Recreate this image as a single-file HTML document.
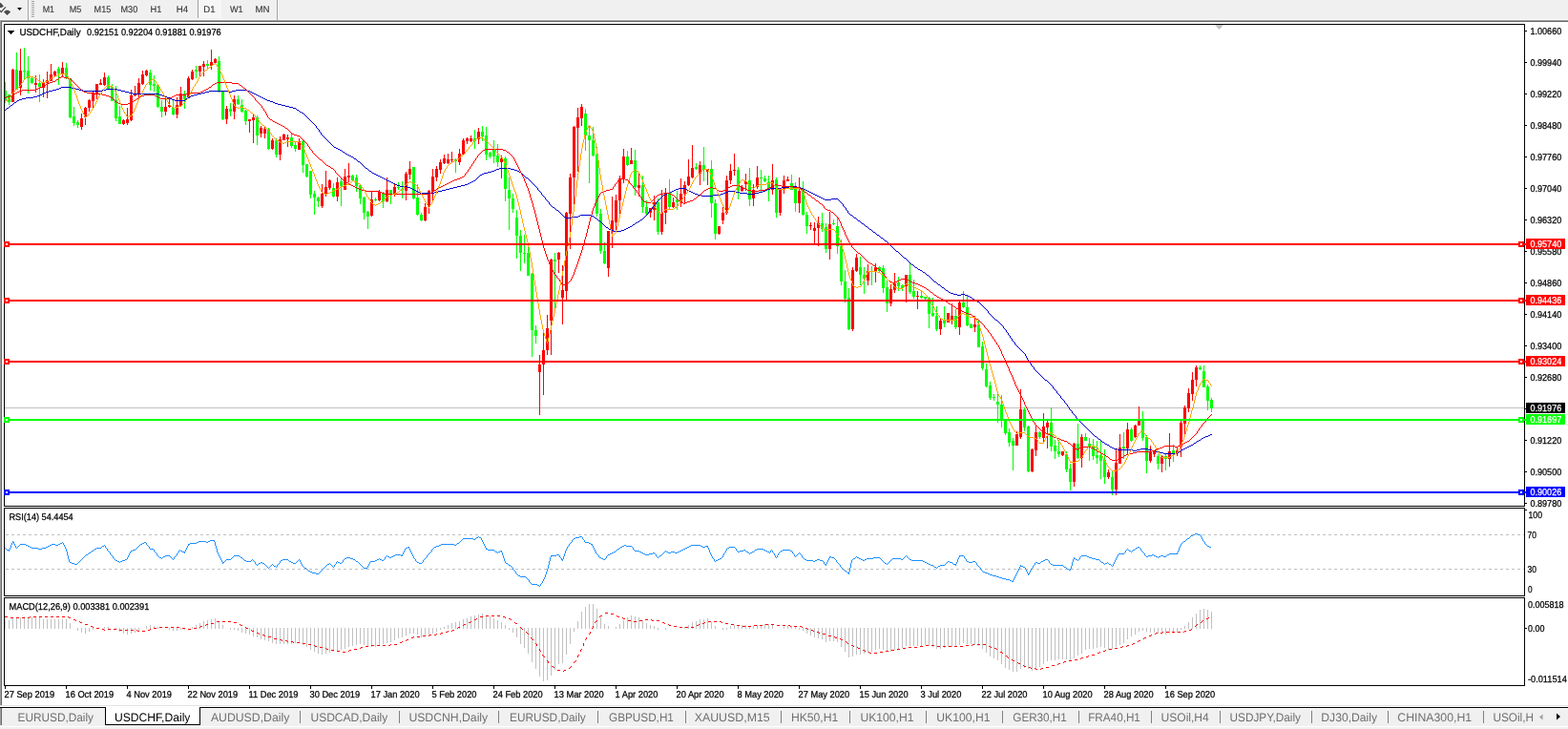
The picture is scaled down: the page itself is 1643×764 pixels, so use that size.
<!DOCTYPE html>
<html><head><meta charset="utf-8"><title>USDCHF,Daily</title>
<style>html,body{margin:0;padding:0;background:#fff;overflow:hidden}body{width:1643px;height:764px;position:relative}svg text{white-space:pre}</style>
</head><body>
<svg width="1643" height="764" viewBox="0 0 1643 764" style="position:absolute;left:0;top:0" shape-rendering="crispEdges" text-rendering="geometricPrecision" font-family="Liberation Sans, sans-serif">
<rect x="0" y="0" width="1643" height="764" fill="#ffffff"/>
<rect x="0" y="0" width="1643" height="20" fill="#f0f0f0"/>
<rect x="0" y="20" width="1643" height="1" fill="#fbfbfb"/>
<rect x="0" y="21" width="1643" height="1" fill="#a0a0a0"/>
<rect x="1" y="22" width="1643" height="1" fill="#696969"/>
<rect x="0" y="21" width="1" height="718" fill="#a0a0a0"/>
<rect x="1" y="22" width="1" height="717" fill="#696969"/>
<g shape-rendering="geometricPrecision" fill="#ffffff" stroke="#ffffff" stroke-width="1.8" stroke-linejoin="round"><path d="M0 2.9L0.8 2.9L3.9 6.4L1.5 8.1L0 8.1z"/><path d="M6.3 10.7L8.7 10.7L11.2 12.4L7.5 16L3.9 12.4z"/><path d="M0 10.9L1.3 12.7L5.9 7.4" fill="none" stroke-width="3.2"/></g>
<g shape-rendering="geometricPrecision" fill="#4d4d4d" stroke="#4d4d4d" stroke-width="0.2"><path d="M0 2.9L0.8 2.9L3.9 6.4L1.5 8.1L0 8.1z"/><path d="M6.3 10.7L8.7 10.7L11.2 12.4L7.5 16L3.9 12.4z"/><path d="M0 10.9L1.3 12.7L5.9 7.4" fill="none" stroke-width="1.4"/></g>
<path d="M18 8h5l-2.5 3z" fill="#000" shape-rendering="geometricPrecision"/>
<rect x="29" y="0" width="1" height="21" fill="#a0a0a0"/><rect x="30" y="0" width="1" height="20" fill="#ffffff"/>
<rect x="33" y="1" width="3" height="1" fill="#9d9d9d"/><rect x="33" y="2" width="3" height="1" fill="#fafafa"/>
<rect x="33" y="3" width="3" height="1" fill="#9d9d9d"/><rect x="33" y="4" width="3" height="1" fill="#fafafa"/>
<rect x="33" y="5" width="3" height="1" fill="#9d9d9d"/><rect x="33" y="6" width="3" height="1" fill="#fafafa"/>
<rect x="33" y="7" width="3" height="1" fill="#9d9d9d"/><rect x="33" y="8" width="3" height="1" fill="#fafafa"/>
<rect x="33" y="9" width="3" height="1" fill="#9d9d9d"/><rect x="33" y="10" width="3" height="1" fill="#fafafa"/>
<rect x="33" y="11" width="3" height="1" fill="#9d9d9d"/><rect x="33" y="12" width="3" height="1" fill="#fafafa"/>
<rect x="33" y="13" width="3" height="1" fill="#9d9d9d"/><rect x="33" y="14" width="3" height="1" fill="#fafafa"/>
<rect x="33" y="15" width="3" height="1" fill="#9d9d9d"/><rect x="33" y="16" width="3" height="1" fill="#fafafa"/>
<rect x="33" y="17" width="3" height="1" fill="#9d9d9d"/><rect x="33" y="18" width="3" height="1" fill="#fafafa"/>
<rect x="207" y="0" width="1" height="19" fill="#a0a0a0"/><rect x="208" y="0" width="24" height="19" fill="#f6f6f6"/>
<rect x="290" y="0" width="1" height="21" fill="#a0a0a0"/><rect x="291" y="0" width="1" height="20" fill="#ffffff"/>
<text x="44.7" y="13" font-size="9.8" fill="#3a3a3a" stroke="#3a3a3a" stroke-width="0.15" textLength="12.4" lengthAdjust="spacingAndGlyphs">M1</text>
<text x="72.7" y="13" font-size="9.8" fill="#3a3a3a" stroke="#3a3a3a" stroke-width="0.15" textLength="12.6" lengthAdjust="spacingAndGlyphs">M5</text>
<text x="98.6" y="13" font-size="9.8" fill="#3a3a3a" stroke="#3a3a3a" stroke-width="0.15" textLength="17.7" lengthAdjust="spacingAndGlyphs">M15</text>
<text x="126.5" y="13" font-size="9.8" fill="#3a3a3a" stroke="#3a3a3a" stroke-width="0.15" textLength="17.7" lengthAdjust="spacingAndGlyphs">M30</text>
<text x="157.6" y="13" font-size="9.8" fill="#3a3a3a" stroke="#3a3a3a" stroke-width="0.15" textLength="11.8" lengthAdjust="spacingAndGlyphs">H1</text>
<text x="184.8" y="13" font-size="9.8" fill="#3a3a3a" stroke="#3a3a3a" stroke-width="0.15" textLength="12.4" lengthAdjust="spacingAndGlyphs">H4</text>
<text x="213.3" y="13" font-size="9.8" fill="#3a3a3a" stroke="#3a3a3a" stroke-width="0.15" textLength="12.2" lengthAdjust="spacingAndGlyphs">D1</text>
<text x="241.0" y="13" font-size="9.8" fill="#3a3a3a" stroke="#3a3a3a" stroke-width="0.15" textLength="13.7" lengthAdjust="spacingAndGlyphs">W1</text>
<text x="267.5" y="13" font-size="9.8" fill="#3a3a3a" stroke="#3a3a3a" stroke-width="0.15" textLength="15.1" lengthAdjust="spacingAndGlyphs">MN</text>
<rect x="5" y="427" width="1592" height="1" fill="#c0c0c0"/>
<path fill="#00ff00" d="M5 86h1V108h-1zM4 95h3V106h-3zM9 99h1V110h-1zM8 99h3V107h-3zM17 55h1V94h-1zM16 73h3V94h-3zM25 50h1V84h-1zM24 74h3V75h-3zM29 59h1V98h-1zM28 74h3V82h-3zM33 81h1V88h-1zM32 82h3V87h-3zM41 78h1V107h-1zM40 87h3V91h-3zM61 70h1V89h-1zM60 72h3V77h-3zM69 66h1V83h-1zM68 71h3V82h-3zM73 82h1V124h-1zM72 82h3V123h-3zM77 112h1V132h-1zM76 122h3V129h-3zM81 126h1V134h-1zM80 128h3V131h-3zM113 79h1V93h-1zM112 81h3V93h-3zM117 88h1V106h-1zM116 91h3V106h-3zM121 90h1V127h-1zM120 105h3V124h-3zM125 111h1V130h-1zM124 122h3V130h-3zM157 73h1V95h-1zM156 76h3V89h-3zM161 79h1V96h-1zM160 88h3V90h-3zM165 89h1V113h-1zM164 89h3V112h-3zM169 105h1V123h-1zM168 112h3V117h-3zM181 105h1V121h-1zM180 113h3V120h-3zM193 95h1V114h-1zM192 98h3V104h-3zM205 69h1V82h-1zM204 73h3V75h-3zM217 63h1V72h-1zM216 67h3V69h-3zM229 59h1V97h-1zM228 64h3V95h-3zM233 95h1V126h-1zM232 95h3V125h-3zM241 108h1V122h-1zM240 114h3V117h-3zM249 100h1V110h-1zM248 104h3V109h-3zM253 104h1V118h-1zM252 110h3V117h-3zM257 115h1V131h-1zM256 116h3V127h-3zM269 121h1V152h-1zM268 123h3V142h-3zM281 134h1V157h-1zM280 135h3V156h-3zM289 145h1V165h-1zM288 147h3V162h-3zM305 140h1V155h-1zM304 144h3V153h-3zM309 149h1V159h-1zM308 152h3V156h-3zM317 146h1V181h-1zM316 148h3V173h-3zM321 172h1V186h-1zM320 172h3V185h-3zM325 179h1V208h-1zM324 179h3V204h-3zM329 200h1V225h-1zM328 203h3V207h-3zM333 206h1V217h-1zM332 207h3V211h-3zM349 192h1V207h-1zM348 197h3V206h-3zM357 187h1V216h-1zM356 190h3V195h-3zM369 183h1V189h-1zM368 184h3V189h-3zM373 183h1V201h-1zM372 186h3V195h-3zM377 194h1V214h-1zM376 194h3V208h-3zM381 206h1V230h-1zM380 207h3V223h-3zM385 221h1V240h-1zM384 222h3V227h-3zM393 207h1V211h-1zM392 209h3V210h-3zM401 201h1V218h-1zM400 203h3V211h-3zM409 199h1V214h-1zM408 199h3V203h-3zM417 191h1V199h-1zM416 196h3V197h-3zM421 190h1V208h-1zM420 198h3V199h-3zM433 175h1V209h-1zM432 175h3V208h-3zM437 193h1V226h-1zM436 207h3V225h-3zM441 223h1V232h-1zM440 225h3V231h-3zM477 166h1V181h-1zM476 167h3V169h-3zM497 136h1V156h-1zM496 145h3V148h-3zM505 132h1V148h-1zM504 138h3V143h-3zM509 133h1V168h-1zM508 142h3V162h-3zM513 159h1V166h-1zM512 160h3V164h-3zM517 147h1V171h-1zM516 156h3V164h-3zM521 151h1V175h-1zM520 163h3V170h-3zM529 164h1V211h-1zM528 166h3V198h-3zM533 186h1V241h-1zM532 199h3V208h-3zM537 203h1V223h-1zM536 208h3V219h-3zM541 220h1V271h-1zM540 228h3V247h-3zM545 241h1V284h-1zM544 247h3V265h-3zM549 246h1V276h-1zM548 265h3V266h-3zM553 254h1V289h-1zM552 265h3V289h-3zM557 286h1V374h-1zM556 287h3V346h-3zM561 341h1V360h-1zM560 346h3V352h-3zM581 265h1V325h-1zM580 272h3V274h-3zM613 114h1V158h-1zM612 119h3V142h-3zM617 131h1V192h-1zM616 142h3V147h-3zM621 133h1V164h-1zM620 147h3V163h-3zM625 154h1V227h-1zM624 162h3V224h-3zM629 219h1V266h-1zM628 224h3V263h-3zM633 254h1V277h-1zM632 263h3V276h-3zM657 158h1V174h-1zM656 164h3V173h-3zM665 157h1V205h-1zM664 168h3V196h-3zM673 184h1V223h-1zM672 194h3V217h-3zM677 210h1V225h-1zM676 217h3V224h-3zM689 208h1V246h-1zM688 212h3V243h-3zM701 188h1V219h-1zM700 202h3V217h-3zM709 200h1V220h-1zM708 209h3V212h-3zM729 171h1V178h-1zM728 175h3V177h-3zM737 154h1V190h-1zM736 173h3V178h-3zM745 168h1V228h-1zM744 177h3V213h-3zM749 209h1V251h-1zM748 213h3V245h-3zM773 175h1V209h-1zM772 178h3V200h-3zM785 176h1V216h-1zM784 189h3V209h-3zM797 178h1V202h-1zM796 186h3V187h-3zM801 184h1V191h-1zM800 187h3V190h-3zM805 184h1V211h-1zM804 191h3V198h-3zM813 186h1V228h-1zM812 188h3V223h-3zM829 183h1V199h-1zM828 192h3V199h-3zM833 191h1V222h-1zM832 197h3V213h-3zM841 190h1V226h-1zM840 199h3V225h-3zM845 222h1V245h-1zM844 225h3V237h-3zM861 223h1V243h-1zM860 234h3V240h-3zM865 234h1V265h-1zM864 238h3V261h-3zM873 230h1V236h-1zM872 234h3V235h-3zM877 227h1V266h-1zM876 237h3V258h-3zM881 251h1V299h-1zM880 258h3V295h-3zM885 283h1V317h-1zM884 295h3V313h-3zM889 302h1V346h-1zM888 312h3V345h-3zM901 269h1V299h-1zM900 280h3V288h-3zM905 280h1V308h-1zM904 288h3V292h-3zM913 279h1V299h-1zM912 284h3V285h-3zM921 279h1V285h-1zM920 280h3V284h-3zM925 278h1V307h-1zM924 281h3V302h-3zM929 294h1V327h-1zM928 301h3V318h-3zM941 290h1V305h-1zM940 296h3V300h-3zM945 298h1V305h-1zM944 299h3V302h-3zM953 275h1V308h-1zM952 288h3V306h-3zM957 293h1V313h-1zM956 305h3V311h-3zM965 305h1V313h-1zM964 310h3V312h-3zM969 311h1V314h-1zM968 311h3V313h-3zM973 311h1V344h-1zM972 312h3V329h-3zM977 312h1V332h-1zM976 328h3V331h-3zM981 321h1V347h-1zM980 331h3V345h-3zM989 321h1V343h-1zM988 336h3V339h-3zM1001 324h1V345h-1zM1000 331h3V343h-3zM1009 305h1V323h-1zM1008 317h3V322h-3zM1013 309h1V342h-1zM1012 322h3V341h-3zM1017 339h1V344h-1zM1016 340h3V344h-3zM1025 336h1V364h-1zM1024 340h3V364h-3zM1029 358h1V388h-1zM1028 363h3V386h-3zM1033 381h1V406h-1zM1032 387h3V405h-3zM1037 400h1V419h-1zM1036 404h3V417h-3zM1041 413h1V420h-1zM1040 416h3V417h-3zM1045 413h1V443h-1zM1044 421h3V424h-3zM1049 414h1V448h-1zM1048 424h3V440h-3zM1053 439h1V456h-1zM1052 440h3V454h-3zM1057 449h1V468h-1zM1056 453h3V464h-3zM1061 459h1V493h-1zM1060 462h3V467h-3zM1073 427h1V452h-1zM1072 429h3V448h-3zM1077 446h1V495h-1zM1076 447h3V494h-3zM1089 452h1V460h-1zM1088 453h3V458h-3zM1101 427h1V473h-1zM1100 443h3V468h-3zM1105 461h1V481h-1zM1104 467h3V473h-3zM1109 461h1V479h-1zM1108 473h3V476h-3zM1117 473h1V495h-1zM1116 476h3V492h-3zM1121 486h1V514h-1zM1120 491h3V505h-3zM1129 444h1V481h-1zM1128 465h3V480h-3zM1137 454h1V462h-1zM1136 458h3V462h-3zM1141 459h1V483h-1zM1140 465h3V468h-3zM1145 460h1V482h-1zM1144 468h3V478h-3zM1149 462h1V486h-1zM1148 477h3V480h-3zM1153 462h1V502h-1zM1152 477h3V483h-3zM1157 471h1V507h-1zM1156 482h3V500h-3zM1165 494h1V519h-1zM1164 500h3V513h-3zM1177 453h1V481h-1zM1176 468h3V470h-3zM1185 448h1V463h-1zM1184 450h3V462h-3zM1197 431h1V462h-1zM1196 441h3V459h-3zM1201 456h1V496h-1zM1200 458h3V483h-3zM1213 476h1V492h-1zM1212 478h3V486h-3zM1221 475h1V493h-1zM1220 478h3V481h-3zM1229 466h1V484h-1zM1228 472h3V475h-3zM1257 383h1V388h-1zM1256 385h3V387h-3zM1261 383h1V406h-1zM1260 389h3V406h-3zM1265 403h1V430h-1zM1264 405h3V420h-3zM1269 417h1V432h-1zM1268 419h3V428h-3z"/>
<path fill="#ff0000" d="M13 72h1V107h-1zM12 73h3V107h-3zM21 51h1V100h-1zM20 74h3V92h-3zM37 79h1V97h-1zM36 87h3V89h-3zM45 83h1V102h-1zM44 87h3V92h-3zM49 75h1V103h-1zM48 84h3V87h-3zM53 67h1V85h-1zM52 78h3V85h-3zM57 74h1V80h-1zM56 75h3V79h-3zM65 65h1V81h-1zM64 71h3V77h-3zM85 119h1V136h-1zM84 124h3V133h-3zM89 112h1V131h-1zM88 113h3V123h-3zM93 104h1V117h-1zM92 105h3V113h-3zM97 96h1V113h-1zM96 98h3V106h-3zM101 88h1V104h-1zM100 88h3V98h-3zM105 83h1V89h-1zM104 87h3V89h-3zM109 76h1V90h-1zM108 81h3V89h-3zM129 125h1V131h-1zM128 126h3V130h-3zM133 113h1V131h-1zM132 125h3V129h-3zM137 94h1V127h-1zM136 100h3V126h-3zM141 90h1V101h-1zM140 98h3V100h-3zM145 82h1V103h-1zM144 87h3V98h-3zM149 74h1V89h-1zM148 78h3V88h-3zM153 73h1V80h-1zM152 74h3V79h-3zM173 104h1V121h-1zM172 112h3V117h-3zM177 103h1V113h-1zM176 110h3V112h-3zM185 102h1V124h-1zM184 110h3V120h-3zM189 91h1V112h-1zM188 98h3V111h-3zM197 80h1V103h-1zM196 82h3V103h-3zM201 73h1V84h-1zM200 75h3V83h-3zM209 69h1V81h-1zM208 69h3V75h-3zM213 64h1V80h-1zM212 67h3V70h-3zM221 52h1V73h-1zM220 65h3V69h-3zM225 61h1V67h-1zM224 62h3V66h-3zM237 111h1V130h-1zM236 114h3V125h-3zM245 100h1V125h-1zM244 104h3V117h-3zM261 125h1V139h-1zM260 125h3V127h-3zM265 120h1V150h-1zM264 123h3V126h-3zM273 132h1V144h-1zM272 134h3V140h-3zM277 133h1V145h-1zM276 135h3V140h-3zM285 145h1V157h-1zM284 147h3V156h-3zM293 143h1V168h-1zM292 146h3V162h-3zM297 140h1V147h-1zM296 141h3V147h-3zM301 141h1V154h-1zM300 144h3V146h-3zM313 145h1V157h-1zM312 148h3V157h-3zM337 193h1V218h-1zM336 203h3V216h-3zM341 179h1V206h-1zM340 196h3V203h-3zM345 188h1V199h-1zM344 189h3V197h-3zM353 186h1V211h-1zM352 191h3V206h-3zM361 177h1V199h-1zM360 185h3V199h-3zM365 171h1V191h-1zM364 184h3V186h-3zM389 200h1V227h-1zM388 209h3V226h-3zM397 199h1V211h-1zM396 201h3V210h-3zM405 186h1V212h-1zM404 199h3V211h-3zM413 192h1V206h-1zM412 196h3V203h-3zM425 180h1V210h-1zM424 182h3V200h-3zM429 169h1V188h-1zM428 177h3V183h-3zM445 213h1V232h-1zM444 217h3V231h-3zM449 199h1V224h-1zM448 200h3V216h-3zM453 177h1V210h-1zM452 185h3V201h-3zM457 174h1V190h-1zM456 177h3V186h-3zM461 167h1V182h-1zM460 170h3V178h-3zM465 162h1V172h-1zM464 166h3V171h-3zM469 161h1V172h-1zM468 167h3V171h-3zM473 159h1V170h-1zM472 167h3V168h-3zM481 156h1V173h-1zM480 161h3V170h-3zM485 145h1V162h-1zM484 147h3V162h-3zM489 144h1V151h-1zM488 145h3V148h-3zM493 142h1V149h-1zM492 145h3V148h-3zM501 134h1V151h-1zM500 138h3V146h-3zM525 163h1V187h-1zM524 166h3V170h-3zM565 372h1V435h-1zM564 382h3V390h-3zM569 349h1V414h-1zM568 367h3V382h-3zM573 330h1V372h-1zM572 344h3V367h-3zM577 271h1V372h-1zM576 272h3V336h-3zM585 264h1V286h-1zM584 265h3V272h-3zM589 278h1V340h-1zM588 304h3V312h-3zM593 222h1V316h-1zM592 223h3V305h-3zM597 182h1V261h-1zM596 186h3V224h-3zM601 132h1V219h-1zM600 133h3V186h-3zM605 113h1V180h-1zM604 123h3V134h-3zM609 109h1V132h-1zM608 112h3V124h-3zM637 242h1V290h-1zM636 242h3V281h-3zM641 206h1V260h-1zM640 231h3V243h-3zM645 204h1V242h-1zM644 210h3V233h-3zM649 184h1V224h-1zM648 187h3V210h-3zM653 156h1V192h-1zM652 164h3V188h-3zM661 155h1V172h-1zM660 168h3V172h-3zM669 181h1V206h-1zM668 194h3V197h-3zM681 218h1V228h-1zM680 218h3V223h-3zM685 205h1V231h-1zM684 212h3V220h-3zM693 199h1V246h-1zM692 223h3V243h-3zM697 197h1V235h-1zM696 203h3V223h-3zM705 207h1V218h-1zM704 212h3V217h-3zM713 187h1V217h-1zM712 203h3V212h-3zM717 190h1V213h-1zM716 194h3V203h-3zM721 167h1V195h-1zM720 185h3V194h-3zM725 152h1V187h-1zM724 176h3V186h-3zM733 169h1V194h-1zM732 173h3V182h-3zM741 177h1V194h-1zM740 177h3V180h-3zM753 237h1V246h-1zM752 237h3V245h-3zM757 217h1V235h-1zM756 223h3V231h-3zM761 184h1V225h-1zM760 189h3V223h-3zM765 172h1V193h-1zM764 179h3V189h-3zM769 161h1V184h-1zM768 178h3V179h-3zM777 194h1V201h-1zM776 196h3V200h-3zM781 182h1V200h-1zM780 190h3V193h-3zM789 193h1V216h-1zM788 199h3V208h-3zM793 174h1V198h-1zM792 186h3V196h-3zM809 172h1V204h-1zM808 189h3V199h-3zM817 198h1V226h-1zM816 199h3V223h-3zM821 184h1V203h-1zM820 189h3V198h-3zM825 185h1V190h-1zM824 188h3V190h-3zM837 186h1V223h-1zM836 200h3V213h-3zM849 233h1V241h-1zM848 236h3V237h-3zM853 233h1V255h-1zM852 239h3V242h-3zM857 227h1V258h-1zM856 234h3V239h-3zM869 222h1V272h-1zM868 235h3V261h-3zM893 280h1V347h-1zM892 283h3V345h-3zM897 266h1V285h-1zM896 270h3V284h-3zM909 277h1V299h-1zM908 284h3V294h-3zM917 276h1V296h-1zM916 280h3V285h-3zM933 298h1V321h-1zM932 303h3V318h-3zM937 286h1V307h-1zM936 297h3V304h-3zM949 288h1V317h-1zM948 288h3V300h-3zM961 305h1V324h-1zM960 310h3V311h-3zM985 333h1V351h-1zM984 336h3V345h-3zM993 328h1V338h-1zM992 328h3V338h-3zM997 318h1V340h-1zM996 331h3V336h-3zM1005 316h1V351h-1zM1004 317h3V343h-3zM1021 331h1V348h-1zM1020 340h3V343h-3zM1065 452h1V467h-1zM1064 455h3V467h-3zM1069 408h1V460h-1zM1068 429h3V458h-3zM1081 470h1V495h-1zM1080 471h3V494h-3zM1085 446h1V478h-1zM1084 453h3V472h-3zM1093 433h1V463h-1zM1092 447h3V459h-3zM1097 441h1V470h-1zM1096 443h3V448h-3zM1113 473h1V478h-1zM1112 473h3V477h-3zM1125 464h1V510h-1zM1124 465h3V505h-3zM1133 455h1V490h-1zM1132 458h3V480h-3zM1161 492h1V502h-1zM1160 495h3V500h-3zM1169 470h1V519h-1zM1168 485h3V513h-3zM1173 455h1V486h-1zM1172 469h3V486h-3zM1181 443h1V477h-1zM1180 450h3V470h-3zM1189 445h1V459h-1zM1188 446h3V458h-3zM1193 426h1V446h-1zM1192 441h3V446h-3zM1205 467h1V485h-1zM1204 474h3V483h-3zM1209 472h1V479h-1zM1208 473h3V476h-3zM1217 477h1V495h-1zM1216 478h3V486h-3zM1225 454h1V489h-1zM1224 473h3V481h-3zM1233 469h1V478h-1zM1232 472h3V475h-3zM1237 441h1V479h-1zM1236 443h3V468h-3zM1241 425h1V456h-1zM1240 427h3V444h-3zM1245 407h1V432h-1zM1244 412h3V428h-3zM1249 390h1V420h-1zM1248 398h3V413h-3zM1253 383h1V405h-1zM1252 385h3V398h-3z"/>
<path fill="#0000cd" d="M64 91h11v1h-11zM62 92h2v1h-2zM75 92h4v1h-4zM59 93h3v1h-3zM79 93h4v1h-4zM111 93h12v1h-12zM55 94h4v1h-4zM83 94h4v1h-4zM107 94h4v1h-4zM123 94h4v1h-4zM247 94h12v1h-12zM51 95h4v1h-4zM87 95h20v1h-20zM127 95h4v1h-4zM219 95h20v1h-20zM243 95h4v1h-4zM259 95h3v1h-3zM48 96h3v1h-3zM131 96h4v1h-4zM215 96h4v1h-4zM239 96h4v1h-4zM262 96h2v1h-2zM46 97h2v1h-2zM135 97h4v1h-4zM211 97h4v1h-4zM264 97h2v1h-2zM44 98h2v1h-2zM139 98h28v1h-28zM207 98h4v1h-4zM266 98h2v1h-2zM42 99h2v1h-2zM167 99h3v1h-3zM203 99h4v1h-4zM268 99h2v1h-2zM39 100h3v1h-3zM170 100h2v1h-2zM200 100h3v1h-3zM270 100h2v1h-2zM35 101h4v1h-4zM172 101h3v1h-3zM198 101h2v1h-2zM272 101h2v1h-2zM27 102h8v1h-8zM175 102h3v1h-3zM197 102h1v1h-1zM274 102h2v1h-2zM23 103h4v1h-4zM178 103h2v1h-2zM195 103h2v1h-2zM276 103h2v1h-2zM20 104h3v1h-3zM180 104h3v1h-3zM194 104h1v1h-1zM278 104h2v1h-2zM18 105h2v1h-2zM183 105h11v1h-11zM280 105h3v1h-3zM17 106h1v1h-1zM283 106h3v1h-3zM15 107h2v1h-2zM286 107h2v1h-2zM14 108h1v1h-1zM288 108h3v1h-3zM13 109h1v1h-1zM291 109h4v1h-4zM11 110h2v1h-2zM295 110h4v1h-4zM10 111h1v1h-1zM299 111h4v1h-4zM9 112h1v1h-1zM303 112h4v1h-4zM7 113h2v1h-2zM307 113h3v1h-3zM6 114h1v1h-1zM310 114h1v1h-1zM5 115h1v1h-1zM311 115h2v1h-2zM313 116h1v1h-1zM314 117h2v1h-2zM316 118h2v1h-2zM318 119h1v1h-1zM319 120h1v1h-1zM320 121h1v1h-1zM321 122h1v1h-1zM322 123h1v1h-1zM323 124h1v1h-1zM324 125h1v1h-1zM325 126h1v1h-1zM326 127h1v1h-1zM327 128h1v1h-1zM328 129h1v1h-1zM329 130h1v1h-1zM330 131h1v1h-1zM331 132h1v2h-1zM332 134h1v1h-1zM333 135h1v1h-1zM334 136h1v2h-1zM335 138h1v1h-1zM336 139h1v2h-1zM337 141h1v1h-1zM338 142h1v1h-1zM339 143h1v1h-1zM340 144h1v1h-1zM341 145h1v1h-1zM342 146h1v1h-1zM343 147h1v1h-1zM344 148h1v1h-1zM345 149h1v1h-1zM346 150h1v1h-1zM347 151h1v1h-1zM348 152h1v1h-1zM349 153h1v1h-1zM350 154h2v1h-2zM352 155h2v1h-2zM354 156h2v1h-2zM356 157h2v1h-2zM358 158h1v1h-1zM359 159h2v1h-2zM361 160h1v1h-1zM362 161h2v1h-2zM364 162h2v1h-2zM366 163h2v1h-2zM368 164h2v1h-2zM370 165h1v1h-1zM371 166h2v1h-2zM373 167h1v1h-1zM374 168h1v1h-1zM375 169h2v1h-2zM377 170h1v1h-1zM378 171h1v1h-1zM379 172h1v1h-1zM380 173h1v1h-1zM381 174h1v1h-1zM382 175h1v1h-1zM383 176h2v1h-2zM523 176h12v1h-12zM385 177h1v1h-1zM520 177h3v1h-3zM535 177h4v1h-4zM386 178h1v1h-1zM518 178h2v1h-2zM539 178h3v1h-3zM387 179h2v1h-2zM515 179h3v1h-3zM542 179h2v1h-2zM389 180h1v1h-1zM511 180h4v1h-4zM544 180h2v1h-2zM390 181h2v1h-2zM507 181h4v1h-4zM546 181h1v1h-1zM392 182h2v1h-2zM505 182h2v1h-2zM547 182h1v1h-1zM394 183h2v1h-2zM503 183h2v1h-2zM548 183h1v1h-1zM396 184h2v1h-2zM502 184h1v1h-1zM549 184h1v1h-1zM398 185h2v1h-2zM501 185h1v1h-1zM550 185h1v1h-1zM400 186h2v1h-2zM500 186h1v1h-1zM551 186h2v1h-2zM402 187h2v1h-2zM499 187h1v1h-1zM553 187h1v1h-1zM404 188h2v1h-2zM498 188h1v1h-1zM554 188h1v1h-1zM406 189h2v1h-2zM496 189h2v1h-2zM555 189h1v1h-1zM408 190h2v1h-2zM494 190h2v1h-2zM556 190h1v1h-1zM410 191h2v1h-2zM492 191h2v1h-2zM557 191h1v1h-1zM412 192h2v1h-2zM490 192h2v1h-2zM558 192h1v1h-1zM414 193h2v1h-2zM487 193h3v1h-3zM559 193h1v1h-1zM416 194h3v1h-3zM483 194h4v1h-4zM560 194h1v1h-1zM419 195h8v1h-8zM479 195h4v1h-4zM561 195h1v1h-1zM827 195h8v1h-8zM427 196h3v1h-3zM475 196h4v1h-4zM562 196h1v1h-1zM819 196h8v1h-8zM835 196h4v1h-4zM430 197h2v1h-2zM471 197h4v1h-4zM563 197h1v2h-1zM711 197h7v1h-7zM807 197h12v1h-12zM839 197h3v1h-3zM432 198h2v1h-2zM467 198h4v1h-4zM708 198h3v1h-3zM718 198h2v1h-2zM804 198h3v1h-3zM842 198h2v1h-2zM434 199h2v1h-2zM463 199h4v1h-4zM564 199h1v1h-1zM706 199h2v1h-2zM720 199h2v1h-2zM802 199h2v1h-2zM844 199h2v1h-2zM436 200h2v1h-2zM459 200h4v1h-4zM565 200h1v1h-1zM704 200h2v1h-2zM722 200h2v1h-2zM763 200h8v1h-8zM799 200h3v1h-3zM846 200h2v1h-2zM438 201h2v1h-2zM455 201h4v1h-4zM566 201h1v1h-1zM702 201h2v1h-2zM724 201h2v1h-2zM760 201h3v1h-3zM771 201h4v1h-4zM795 201h4v1h-4zM848 201h2v1h-2zM440 202h15v1h-15zM567 202h1v2h-1zM699 202h3v1h-3zM726 202h2v1h-2zM758 202h2v1h-2zM775 202h8v1h-8zM791 202h4v1h-4zM850 202h2v1h-2zM697 203h2v1h-2zM728 203h3v1h-3zM755 203h3v1h-3zM783 203h8v1h-8zM852 203h2v1h-2zM568 204h1v1h-1zM695 204h2v1h-2zM731 204h4v1h-4zM747 204h8v1h-8zM854 204h2v1h-2zM569 205h1v1h-1zM694 205h1v1h-1zM735 205h12v1h-12zM856 205h2v1h-2zM570 206h1v1h-1zM693 206h1v1h-1zM858 206h2v1h-2zM571 207h1v2h-1zM692 207h1v1h-1zM860 207h2v1h-2zM691 208h1v1h-1zM862 208h2v1h-2zM871 208h7v1h-7zM572 209h1v1h-1zM690 209h1v1h-1zM864 209h7v1h-7zM878 209h1v1h-1zM573 210h1v1h-1zM689 210h1v1h-1zM879 210h1v1h-1zM574 211h1v1h-1zM688 211h1v1h-1zM880 211h1v1h-1zM575 212h1v2h-1zM687 212h1v2h-1zM881 212h1v1h-1zM882 213h1v1h-1zM576 214h1v1h-1zM686 214h1v1h-1zM883 214h1v2h-1zM577 215h1v1h-1zM685 215h1v1h-1zM578 216h1v1h-1zM684 216h1v1h-1zM884 216h1v1h-1zM579 217h2v1h-2zM683 217h1v2h-1zM885 217h1v1h-1zM581 218h1v1h-1zM886 218h1v2h-1zM582 219h1v1h-1zM682 219h1v1h-1zM583 220h2v1h-2zM681 220h1v1h-1zM887 220h1v1h-1zM585 221h1v1h-1zM680 221h1v1h-1zM888 221h1v2h-1zM586 222h1v1h-1zM679 222h1v2h-1zM587 223h1v1h-1zM889 223h1v1h-1zM588 224h1v1h-1zM678 224h1v1h-1zM890 224h1v1h-1zM589 225h1v1h-1zM608 225h11v1h-11zM677 225h1v1h-1zM891 225h2v1h-2zM590 226h1v1h-1zM606 226h2v1h-2zM619 226h3v1h-3zM676 226h1v1h-1zM893 226h1v1h-1zM591 227h2v1h-2zM599 227h7v1h-7zM622 227h1v1h-1zM675 227h1v1h-1zM894 227h1v1h-1zM593 228h6v1h-6zM623 228h2v1h-2zM674 228h1v1h-1zM895 228h2v1h-2zM625 229h1v1h-1zM673 229h1v1h-1zM897 229h1v1h-1zM626 230h1v1h-1zM671 230h2v1h-2zM898 230h1v1h-1zM627 231h2v1h-2zM670 231h1v1h-1zM899 231h2v1h-2zM629 232h1v1h-1zM668 232h2v1h-2zM901 232h1v1h-1zM630 233h1v1h-1zM666 233h2v1h-2zM902 233h1v1h-1zM631 234h1v1h-1zM665 234h1v1h-1zM903 234h2v1h-2zM632 235h1v1h-1zM663 235h2v1h-2zM905 235h1v1h-1zM633 236h1v1h-1zM662 236h1v1h-1zM906 236h1v1h-1zM634 237h1v1h-1zM660 237h2v1h-2zM907 237h2v1h-2zM635 238h2v1h-2zM658 238h2v1h-2zM909 238h1v1h-1zM637 239h1v1h-1zM656 239h2v1h-2zM910 239h1v1h-1zM638 240h2v1h-2zM654 240h2v1h-2zM911 240h2v1h-2zM640 241h3v1h-3zM651 241h3v1h-3zM913 241h1v1h-1zM643 242h8v1h-8zM914 242h1v1h-1zM915 243h2v1h-2zM917 244h1v1h-1zM918 245h1v1h-1zM919 246h2v1h-2zM921 247h1v1h-1zM922 248h1v1h-1zM923 249h2v1h-2zM925 250h1v1h-1zM926 251h1v1h-1zM927 252h2v1h-2zM929 253h1v1h-1zM930 254h1v1h-1zM931 255h1v1h-1zM932 256h1v1h-1zM933 257h1v1h-1zM934 258h1v1h-1zM935 259h1v1h-1zM936 260h1v1h-1zM937 261h1v1h-1zM938 262h1v1h-1zM939 263h2v1h-2zM941 264h1v1h-1zM942 265h1v1h-1zM943 266h1v1h-1zM944 267h1v1h-1zM945 268h1v1h-1zM946 269h1v1h-1zM947 270h2v1h-2zM949 271h1v1h-1zM950 272h1v1h-1zM951 273h1v1h-1zM952 274h1v1h-1zM953 275h1v1h-1zM954 276h1v1h-1zM955 277h2v1h-2zM957 278h1v1h-1zM958 279h1v1h-1zM959 280h2v1h-2zM961 281h1v1h-1zM962 282h2v1h-2zM964 283h2v1h-2zM966 284h1v1h-1zM967 285h2v1h-2zM969 286h1v1h-1zM970 287h1v1h-1zM971 288h2v1h-2zM973 289h1v1h-1zM974 290h1v1h-1zM975 291h1v1h-1zM976 292h1v1h-1zM977 293h1v1h-1zM978 294h1v1h-1zM979 295h2v1h-2zM981 296h1v1h-1zM982 297h1v1h-1zM983 298h2v1h-2zM985 299h1v1h-1zM986 300h1v1h-1zM987 301h2v1h-2zM989 302h1v1h-1zM990 303h1v1h-1zM991 304h2v1h-2zM993 305h1v1h-1zM994 306h2v1h-2zM996 307h3v1h-3zM999 308h4v1h-4zM1007 308h4v1h-4zM1003 309h4v1h-4zM1011 309h3v1h-3zM1014 310h2v1h-2zM1016 311h2v1h-2zM1018 312h1v1h-1zM1019 313h2v1h-2zM1021 314h1v1h-1zM1022 315h2v1h-2zM1024 316h2v1h-2zM1026 317h1v1h-1zM1027 318h1v1h-1zM1028 319h1v1h-1zM1029 320h1v1h-1zM1030 321h1v1h-1zM1031 322h1v1h-1zM1032 323h1v1h-1zM1033 324h1v1h-1zM1034 325h1v1h-1zM1035 326h1v2h-1zM1036 328h1v1h-1zM1037 329h1v1h-1zM1038 330h1v1h-1zM1039 331h1v1h-1zM1040 332h1v1h-1zM1041 333h1v1h-1zM1042 334h1v1h-1zM1043 335h2v1h-2zM1045 336h1v1h-1zM1046 337h1v1h-1zM1047 338h1v1h-1zM1048 339h1v1h-1zM1049 340h1v1h-1zM1050 341h1v1h-1zM1051 342h1v2h-1zM1052 344h1v1h-1zM1053 345h1v1h-1zM1054 346h1v2h-1zM1055 348h1v1h-1zM1056 349h1v2h-1zM1057 351h1v1h-1zM1058 352h1v2h-1zM1059 354h1v1h-1zM1060 355h1v2h-1zM1061 357h1v1h-1zM1062 358h1v1h-1zM1063 359h1v2h-1zM1064 361h1v1h-1zM1065 362h1v1h-1zM1066 363h1v1h-1zM1067 364h1v1h-1zM1068 365h1v1h-1zM1069 366h1v1h-1zM1070 367h1v1h-1zM1071 368h1v1h-1zM1072 369h1v1h-1zM1073 370h1v1h-1zM1074 371h1v2h-1zM1075 373h1v2h-1zM1076 375h1v2h-1zM1077 377h1v1h-1zM1078 378h1v2h-1zM1079 380h1v1h-1zM1080 381h1v2h-1zM1081 383h1v1h-1zM1082 384h1v1h-1zM1083 385h1v2h-1zM1084 387h1v1h-1zM1085 388h1v1h-1zM1086 389h1v1h-1zM1087 390h1v1h-1zM1088 391h1v1h-1zM1089 392h1v1h-1zM1090 393h1v1h-1zM1091 394h1v1h-1zM1092 395h1v1h-1zM1093 396h1v1h-1zM1094 397h1v1h-1zM1095 398h2v1h-2zM1097 399h1v1h-1zM1098 400h1v1h-1zM1099 401h1v1h-1zM1100 402h1v1h-1zM1101 403h1v1h-1zM1102 404h1v1h-1zM1103 405h1v2h-1zM1104 407h1v1h-1zM1105 408h1v1h-1zM1106 409h1v1h-1zM1107 410h1v2h-1zM1108 412h1v1h-1zM1109 413h1v1h-1zM1110 414h1v1h-1zM1111 415h1v2h-1zM1112 417h1v1h-1zM1113 418h1v1h-1zM1114 419h1v1h-1zM1115 420h1v2h-1zM1116 422h1v1h-1zM1117 423h1v1h-1zM1118 424h1v2h-1zM1119 426h1v1h-1zM1120 427h1v2h-1zM1121 429h1v1h-1zM1122 430h1v1h-1zM1123 431h1v2h-1zM1124 433h1v1h-1zM1125 434h1v1h-1zM1126 435h1v1h-1zM1127 436h1v2h-1zM1128 438h1v1h-1zM1129 439h1v1h-1zM1130 440h1v1h-1zM1131 441h1v1h-1zM1132 442h1v1h-1zM1133 443h1v1h-1zM1134 444h1v1h-1zM1135 445h1v1h-1zM1136 446h1v1h-1zM1137 447h1v1h-1zM1138 448h1v1h-1zM1139 449h1v1h-1zM1140 450h1v1h-1zM1141 451h1v1h-1zM1142 452h1v1h-1zM1143 453h1v1h-1zM1144 454h1v1h-1zM1145 455h1v1h-1zM1268 455h2v1h-2zM1146 456h1v1h-1zM1266 456h2v1h-2zM1147 457h2v1h-2zM1263 457h3v1h-3zM1149 458h1v1h-1zM1261 458h2v1h-2zM1150 459h1v1h-1zM1259 459h2v1h-2zM1151 460h2v1h-2zM1258 460h1v1h-1zM1153 461h1v1h-1zM1256 461h2v1h-2zM1154 462h1v1h-1zM1254 462h2v1h-2zM1155 463h2v1h-2zM1253 463h1v1h-1zM1157 464h1v1h-1zM1251 464h2v1h-2zM1158 465h2v1h-2zM1250 465h1v1h-1zM1160 466h2v1h-2zM1248 466h2v1h-2zM1162 467h1v1h-1zM1246 467h2v1h-2zM1163 468h2v1h-2zM1244 468h2v1h-2zM1165 469h2v1h-2zM1242 469h2v1h-2zM1167 470h4v1h-4zM1195 470h8v1h-8zM1240 470h2v1h-2zM1171 471h16v1h-16zM1191 471h4v1h-4zM1203 471h4v1h-4zM1238 471h2v1h-2zM1187 472h4v1h-4zM1207 472h4v1h-4zM1237 472h1v1h-1zM1211 473h4v1h-4zM1235 473h2v1h-2zM1215 474h4v1h-4zM1234 474h1v1h-1zM1219 475h15v1h-15z"/>
<path fill="#ff0000" d="M64 80h3v1h-3zM62 81h2v1h-2zM67 81h4v1h-4zM61 82h1v1h-1zM71 82h3v1h-3zM59 83h2v1h-2zM74 83h1v1h-1zM58 84h1v1h-1zM75 84h1v1h-1zM55 85h3v1h-3zM76 85h1v1h-1zM52 86h3v1h-3zM77 86h1v1h-1zM227 86h16v1h-16zM50 87h2v1h-2zM78 87h1v1h-1zM225 87h2v1h-2zM243 87h7v1h-7zM48 88h2v1h-2zM79 88h1v1h-1zM223 88h2v1h-2zM250 88h1v1h-1zM46 89h2v1h-2zM80 89h1v1h-1zM222 89h1v1h-1zM251 89h2v1h-2zM44 90h2v1h-2zM81 90h1v1h-1zM221 90h1v1h-1zM253 90h1v1h-1zM42 91h2v1h-2zM82 91h1v1h-1zM219 91h2v1h-2zM254 91h1v1h-1zM40 92h2v1h-2zM83 92h1v1h-1zM218 92h1v1h-1zM255 92h2v1h-2zM38 93h2v1h-2zM84 93h1v1h-1zM216 93h2v1h-2zM257 93h1v1h-1zM23 94h15v1h-15zM85 94h1v1h-1zM214 94h2v1h-2zM258 94h1v1h-1zM20 95h3v1h-3zM86 95h2v1h-2zM212 95h2v1h-2zM259 95h1v1h-1zM18 96h2v1h-2zM88 96h3v1h-3zM210 96h2v1h-2zM260 96h1v1h-1zM16 97h2v1h-2zM91 97h8v1h-8zM199 97h11v1h-11zM261 97h1v1h-1zM14 98h2v1h-2zM99 98h8v1h-8zM195 98h4v1h-4zM262 98h1v1h-1zM12 99h2v1h-2zM107 99h4v1h-4zM151 99h11v1h-11zM184 99h11v1h-11zM263 99h1v1h-1zM10 100h2v1h-2zM111 100h3v1h-3zM148 100h3v1h-3zM162 100h2v1h-2zM182 100h2v1h-2zM264 100h1v1h-1zM7 101h3v1h-3zM114 101h2v1h-2zM146 101h2v1h-2zM164 101h2v1h-2zM180 101h2v1h-2zM265 101h1v1h-1zM5 102h2v1h-2zM116 102h2v1h-2zM145 102h1v1h-1zM166 102h2v1h-2zM178 102h2v1h-2zM266 102h1v1h-1zM118 103h1v1h-1zM143 103h2v1h-2zM168 103h10v1h-10zM267 103h1v2h-1zM119 104h1v1h-1zM142 104h1v1h-1zM120 105h1v1h-1zM140 105h2v1h-2zM268 105h1v1h-1zM121 106h1v1h-1zM138 106h2v1h-2zM269 106h1v1h-1zM122 107h2v1h-2zM136 107h2v1h-2zM270 107h1v1h-1zM124 108h3v1h-3zM134 108h2v1h-2zM271 108h1v1h-1zM127 109h7v1h-7zM272 109h1v1h-1zM273 110h1v1h-1zM274 111h1v2h-1zM275 113h1v1h-1zM276 114h1v2h-1zM277 116h1v1h-1zM278 117h1v2h-1zM279 119h1v2h-1zM280 121h1v2h-1zM281 123h1v1h-1zM282 124h1v1h-1zM283 125h2v1h-2zM285 126h1v1h-1zM286 127h2v1h-2zM288 128h2v1h-2zM290 129h2v1h-2zM292 130h2v1h-2zM294 131h2v1h-2zM296 132h2v1h-2zM298 133h1v1h-1zM299 134h2v1h-2zM301 135h1v1h-1zM302 136h1v1h-1zM303 137h1v1h-1zM304 138h1v1h-1zM305 139h1v1h-1zM306 140h2v1h-2zM308 141h3v1h-3zM311 142h3v1h-3zM314 143h1v1h-1zM315 144h1v1h-1zM316 145h1v1h-1zM317 146h1v1h-1zM318 147h1v1h-1zM319 148h1v1h-1zM320 149h1v1h-1zM321 150h1v1h-1zM322 151h1v2h-1zM323 153h1v1h-1zM324 154h1v2h-1zM325 156h1v1h-1zM508 156h19v1h-19zM326 157h1v1h-1zM506 157h2v1h-2zM527 157h3v1h-3zM327 158h1v2h-1zM505 158h1v1h-1zM530 158h1v1h-1zM504 159h1v1h-1zM531 159h2v1h-2zM328 160h1v1h-1zM503 160h1v1h-1zM533 160h1v1h-1zM329 161h1v1h-1zM502 161h1v1h-1zM534 161h1v1h-1zM330 162h1v1h-1zM501 162h1v1h-1zM535 162h1v1h-1zM331 163h1v1h-1zM500 163h1v2h-1zM536 163h1v1h-1zM332 164h1v1h-1zM537 164h1v1h-1zM333 165h1v1h-1zM499 165h1v1h-1zM538 165h1v2h-1zM334 166h1v1h-1zM498 166h1v2h-1zM335 167h2v1h-2zM539 167h1v2h-1zM337 168h1v1h-1zM497 168h1v1h-1zM338 169h1v1h-1zM496 169h1v2h-1zM540 169h1v2h-1zM339 170h1v1h-1zM340 171h1v1h-1zM495 171h1v1h-1zM541 171h1v2h-1zM341 172h1v1h-1zM494 172h1v2h-1zM342 173h2v1h-2zM542 173h1v2h-1zM344 174h2v1h-2zM493 174h1v1h-1zM346 175h1v1h-1zM492 175h1v2h-1zM543 175h1v2h-1zM347 176h2v1h-2zM349 177h1v1h-1zM491 177h1v1h-1zM544 177h1v2h-1zM350 178h1v1h-1zM490 178h1v2h-1zM351 179h1v2h-1zM545 179h1v2h-1zM489 180h1v1h-1zM352 181h1v1h-1zM488 181h1v1h-1zM546 181h1v2h-1zM353 182h1v1h-1zM487 182h1v2h-1zM354 183h1v1h-1zM547 183h1v2h-1zM355 184h1v1h-1zM486 184h1v1h-1zM356 185h1v1h-1zM484 185h2v1h-2zM548 185h1v2h-1zM357 186h1v1h-1zM482 186h2v1h-2zM358 187h1v1h-1zM479 187h3v1h-3zM549 187h1v3h-1zM649 187h6v1h-6zM359 188h2v1h-2zM476 188h3v1h-3zM648 188h1v1h-1zM655 188h3v1h-3zM361 189h1v1h-1zM474 189h2v1h-2zM647 189h1v2h-1zM658 189h1v1h-1zM362 190h1v1h-1zM472 190h2v1h-2zM550 190h1v2h-1zM659 190h1v2h-1zM363 191h2v1h-2zM470 191h2v1h-2zM646 191h1v1h-1zM365 192h1v1h-1zM468 192h2v1h-2zM551 192h1v3h-1zM645 192h1v1h-1zM660 192h1v1h-1zM366 193h2v1h-2zM466 193h2v1h-2zM644 193h1v2h-1zM661 193h1v1h-1zM812 193h3v1h-3zM368 194h2v1h-2zM464 194h2v1h-2zM662 194h1v1h-1zM767 194h8v1h-8zM810 194h2v1h-2zM815 194h4v1h-4zM370 195h2v1h-2zM462 195h2v1h-2zM552 195h1v2h-1zM643 195h1v1h-1zM663 195h1v2h-1zM765 195h2v1h-2zM775 195h3v1h-3zM808 195h2v1h-2zM819 195h12v1h-12zM372 196h2v1h-2zM460 196h2v1h-2zM642 196h1v2h-1zM744 196h3v1h-3zM763 196h2v1h-2zM778 196h1v1h-1zM806 196h2v1h-2zM831 196h7v1h-7zM374 197h2v1h-2zM458 197h2v1h-2zM553 197h1v3h-1zM664 197h1v1h-1zM742 197h2v1h-2zM747 197h3v1h-3zM762 197h1v1h-1zM779 197h2v1h-2zM804 197h2v1h-2zM838 197h1v1h-1zM376 198h3v1h-3zM457 198h1v1h-1zM639 198h3v1h-3zM665 198h1v1h-1zM740 198h2v1h-2zM750 198h1v1h-1zM760 198h2v1h-2zM781 198h2v1h-2zM802 198h2v1h-2zM839 198h2v1h-2zM379 199h4v1h-4zM455 199h2v1h-2zM635 199h4v1h-4zM666 199h1v1h-1zM738 199h2v1h-2zM751 199h2v1h-2zM758 199h2v1h-2zM783 199h4v1h-4zM795 199h7v1h-7zM841 199h1v1h-1zM383 200h15v1h-15zM454 200h1v1h-1zM554 200h1v3h-1zM632 200h3v1h-3zM667 200h1v2h-1zM737 200h1v1h-1zM753 200h5v1h-5zM787 200h8v1h-8zM842 200h1v1h-1zM398 201h2v1h-2zM452 201h2v1h-2zM630 201h2v1h-2zM736 201h1v1h-1zM843 201h2v1h-2zM400 202h3v1h-3zM450 202h2v1h-2zM629 202h1v1h-1zM668 202h1v1h-1zM695 202h7v1h-7zM735 202h1v1h-1zM845 202h1v1h-1zM403 203h47v1h-47zM555 203h1v4h-1zM628 203h1v2h-1zM669 203h1v1h-1zM691 203h4v1h-4zM702 203h2v1h-2zM734 203h1v1h-1zM846 203h1v1h-1zM670 204h1v2h-1zM689 204h2v1h-2zM704 204h2v1h-2zM733 204h1v1h-1zM847 204h2v1h-2zM627 205h1v2h-1zM688 205h1v1h-1zM706 205h1v1h-1zM731 205h2v1h-2zM849 205h1v1h-1zM671 206h1v1h-1zM687 206h1v1h-1zM707 206h1v1h-1zM730 206h1v1h-1zM850 206h1v1h-1zM556 207h1v3h-1zM626 207h1v2h-1zM672 207h1v2h-1zM686 207h1v1h-1zM708 207h1v1h-1zM729 207h1v1h-1zM851 207h2v1h-2zM685 208h1v1h-1zM709 208h1v1h-1zM727 208h2v1h-2zM853 208h1v1h-1zM625 209h1v2h-1zM673 209h1v1h-1zM684 209h1v1h-1zM710 209h1v1h-1zM726 209h1v1h-1zM854 209h1v1h-1zM557 210h1v3h-1zM674 210h1v1h-1zM683 210h1v1h-1zM711 210h2v1h-2zM723 210h3v1h-3zM855 210h2v1h-2zM624 211h1v2h-1zM675 211h2v1h-2zM682 211h1v1h-1zM713 211h1v1h-1zM720 211h3v1h-3zM857 211h1v1h-1zM677 212h5v1h-5zM714 212h2v1h-2zM718 212h2v1h-2zM858 212h1v1h-1zM558 213h1v4h-1zM623 213h1v3h-1zM716 213h2v1h-2zM859 213h2v1h-2zM861 214h1v1h-1zM862 215h1v1h-1zM622 216h1v2h-1zM863 216h1v2h-1zM559 217h1v3h-1zM621 218h1v3h-1zM864 218h1v1h-1zM865 219h2v1h-2zM560 220h1v4h-1zM867 220h3v1h-3zM620 221h1v4h-1zM870 221h1v1h-1zM871 222h2v1h-2zM873 223h1v1h-1zM561 224h1v4h-1zM874 224h1v1h-1zM619 225h1v3h-1zM875 225h1v1h-1zM876 226h1v1h-1zM877 227h1v1h-1zM562 228h1v4h-1zM618 228h1v4h-1zM878 228h1v2h-1zM879 230h1v2h-1zM563 232h1v4h-1zM617 232h1v4h-1zM880 232h1v2h-1zM881 234h1v3h-1zM564 236h1v4h-1zM616 236h1v4h-1zM882 237h1v2h-1zM883 239h1v2h-1zM565 240h1v4h-1zM615 240h1v4h-1zM884 241h1v2h-1zM885 243h1v3h-1zM566 244h1v4h-1zM614 244h1v4h-1zM886 246h1v2h-1zM567 248h1v4h-1zM613 248h1v3h-1zM887 248h1v2h-1zM888 250h1v2h-1zM612 251h1v4h-1zM568 252h1v4h-1zM889 252h1v2h-1zM890 254h1v2h-1zM611 255h1v3h-1zM569 256h1v4h-1zM891 256h1v1h-1zM892 257h1v2h-1zM610 258h1v4h-1zM893 259h1v1h-1zM570 260h1v3h-1zM894 260h1v1h-1zM895 261h1v1h-1zM609 262h1v3h-1zM896 262h1v1h-1zM571 263h1v3h-1zM897 263h1v1h-1zM898 264h1v1h-1zM608 265h1v3h-1zM899 265h2v1h-2zM572 266h1v3h-1zM901 266h1v1h-1zM902 267h1v1h-1zM607 268h1v3h-1zM903 268h1v1h-1zM573 269h1v3h-1zM904 269h1v1h-1zM905 270h1v1h-1zM606 271h1v3h-1zM906 271h1v1h-1zM574 272h1v2h-1zM907 272h1v1h-1zM908 273h1v1h-1zM575 274h1v3h-1zM605 274h1v3h-1zM909 274h1v1h-1zM910 275h2v1h-2zM912 276h2v1h-2zM576 277h1v2h-1zM604 277h1v3h-1zM914 277h1v1h-1zM915 278h2v1h-2zM577 279h1v2h-1zM917 279h1v1h-1zM603 280h1v2h-1zM918 280h1v1h-1zM578 281h1v2h-1zM919 281h2v1h-2zM602 282h1v3h-1zM921 282h1v1h-1zM579 283h1v2h-1zM922 283h1v1h-1zM923 284h1v1h-1zM580 285h1v2h-1zM601 285h1v3h-1zM924 285h1v1h-1zM925 286h1v1h-1zM581 287h1v1h-1zM926 287h1v2h-1zM582 288h1v1h-1zM600 288h1v2h-1zM583 289h1v2h-1zM927 289h1v1h-1zM599 290h1v2h-1zM928 290h1v2h-1zM584 291h1v1h-1zM585 292h1v1h-1zM598 292h1v2h-1zM929 292h1v1h-1zM944 292h6v1h-6zM586 293h1v2h-1zM930 293h1v1h-1zM942 293h2v1h-2zM950 293h2v1h-2zM597 294h1v1h-1zM931 294h2v1h-2zM940 294h2v1h-2zM952 294h2v1h-2zM587 295h1v1h-1zM596 295h1v1h-1zM933 295h2v1h-2zM938 295h2v1h-2zM954 295h2v1h-2zM588 296h1v2h-1zM595 296h1v1h-1zM935 296h3v1h-3zM956 296h3v1h-3zM594 297h1v1h-1zM959 297h3v1h-3zM589 298h5v1h-5zM962 298h2v1h-2zM964 299h2v1h-2zM966 300h2v1h-2zM968 301h2v1h-2zM970 302h1v1h-1zM971 303h2v1h-2zM973 304h1v1h-1zM974 305h1v1h-1zM975 306h2v1h-2zM977 307h1v1h-1zM978 308h1v1h-1zM979 309h2v1h-2zM981 310h1v1h-1zM982 311h2v1h-2zM984 312h2v1h-2zM986 313h2v1h-2zM988 314h2v1h-2zM990 315h1v1h-1zM991 316h2v1h-2zM993 317h1v1h-1zM994 318h2v1h-2zM996 319h2v1h-2zM998 320h1v1h-1zM999 321h2v1h-2zM1001 322h1v1h-1zM1002 323h2v1h-2zM1004 324h2v1h-2zM1006 325h2v1h-2zM1008 326h2v1h-2zM1010 327h2v1h-2zM1012 328h3v1h-3zM1015 329h3v1h-3zM1018 330h1v1h-1zM1019 331h2v1h-2zM1021 332h1v1h-1zM1022 333h1v1h-1zM1023 334h2v1h-2zM1025 335h1v1h-1zM1026 336h1v1h-1zM1027 337h1v1h-1zM1028 338h1v1h-1zM1029 339h1v1h-1zM1030 340h1v1h-1zM1031 341h1v2h-1zM1032 343h1v1h-1zM1033 344h1v1h-1zM1034 345h1v1h-1zM1035 346h1v2h-1zM1036 348h1v1h-1zM1037 349h1v1h-1zM1038 350h1v2h-1zM1039 352h1v1h-1zM1040 353h1v2h-1zM1041 355h1v1h-1zM1042 356h1v2h-1zM1043 358h1v1h-1zM1044 359h1v2h-1zM1045 361h1v1h-1zM1046 362h1v2h-1zM1047 364h1v2h-1zM1048 366h1v2h-1zM1049 368h1v3h-1zM1050 371h1v2h-1zM1051 373h1v2h-1zM1052 375h1v2h-1zM1053 377h1v3h-1zM1054 380h1v2h-1zM1055 382h1v2h-1zM1056 384h1v2h-1zM1057 386h1v3h-1zM1058 389h1v2h-1zM1059 391h1v2h-1zM1060 393h1v2h-1zM1061 395h1v3h-1zM1062 398h1v2h-1zM1063 400h1v3h-1zM1064 403h1v2h-1zM1065 405h1v2h-1zM1066 407h1v2h-1zM1067 409h1v2h-1zM1068 411h1v2h-1zM1069 413h1v2h-1zM1070 415h1v2h-1zM1071 417h1v2h-1zM1072 419h1v2h-1zM1073 421h1v3h-1zM1074 424h1v2h-1zM1075 426h1v2h-1zM1076 428h1v2h-1zM1077 430h1v2h-1zM1078 432h1v2h-1zM1079 434h1v2h-1zM1269 434h1v1h-1zM1268 435h1v1h-1zM1080 436h1v2h-1zM1267 436h1v1h-1zM1266 437h1v1h-1zM1081 438h1v2h-1zM1265 438h1v1h-1zM1264 439h1v1h-1zM1082 440h1v2h-1zM1263 440h1v2h-1zM1083 442h1v1h-1zM1262 442h1v1h-1zM1084 443h1v2h-1zM1261 443h1v1h-1zM1260 444h1v1h-1zM1085 445h1v1h-1zM1259 445h1v2h-1zM1086 446h1v1h-1zM1087 447h1v1h-1zM1258 447h1v1h-1zM1088 448h1v1h-1zM1257 448h1v1h-1zM1089 449h1v1h-1zM1256 449h1v2h-1zM1090 450h1v1h-1zM1091 451h2v1h-2zM1255 451h1v1h-1zM1093 452h1v1h-1zM1254 452h1v2h-1zM1094 453h2v1h-2zM1096 454h2v1h-2zM1253 454h1v1h-1zM1098 455h2v1h-2zM1252 455h1v1h-1zM1100 456h2v1h-2zM1251 456h1v1h-1zM1102 457h2v1h-2zM1250 457h1v1h-1zM1104 458h3v1h-3zM1249 458h1v1h-1zM1107 459h3v1h-3zM1248 459h1v1h-1zM1110 460h2v1h-2zM1247 460h1v1h-1zM1112 461h3v1h-3zM1246 461h1v1h-1zM1115 462h3v1h-3zM1244 462h2v1h-2zM1118 463h1v1h-1zM1242 463h2v1h-2zM1119 464h2v1h-2zM1240 464h2v1h-2zM1121 465h1v1h-1zM1238 465h2v1h-2zM1122 466h1v1h-1zM1236 466h2v1h-2zM1123 467h2v1h-2zM1220 467h11v1h-11zM1234 467h2v1h-2zM1125 468h1v1h-1zM1133 468h10v1h-10zM1218 468h2v1h-2zM1231 468h3v1h-3zM1126 469h1v1h-1zM1131 469h2v1h-2zM1143 469h3v1h-3zM1215 469h3v1h-3zM1127 470h2v1h-2zM1130 470h1v1h-1zM1146 470h1v1h-1zM1212 470h3v1h-3zM1129 471h1v1h-1zM1147 471h2v1h-2zM1210 471h2v1h-2zM1149 472h1v1h-1zM1207 472h3v1h-3zM1150 473h2v1h-2zM1191 473h16v1h-16zM1152 474h2v1h-2zM1187 474h4v1h-4zM1154 475h2v1h-2zM1183 475h4v1h-4zM1156 476h2v1h-2zM1180 476h3v1h-3zM1158 477h1v1h-1zM1178 477h2v1h-2zM1159 478h2v1h-2zM1177 478h1v1h-1zM1161 479h1v1h-1zM1175 479h2v1h-2zM1162 480h1v1h-1zM1174 480h1v1h-1zM1163 481h2v1h-2zM1171 481h3v1h-3zM1165 482h6v1h-6z"/>
<path fill="#ffa500" d="M225 66h1v1h-1zM223 67h2v1h-2zM226 67h1v1h-1zM222 68h1v1h-1zM227 68h1v2h-1zM221 69h1v1h-1zM219 70h2v1h-2zM228 70h1v1h-1zM218 71h1v1h-1zM229 71h1v2h-1zM217 72h1v1h-1zM215 73h2v1h-2zM230 73h1v2h-1zM214 74h1v1h-1zM213 75h1v1h-1zM231 75h1v2h-1zM212 76h1v1h-1zM63 77h7v1h-7zM211 77h1v2h-1zM232 77h1v2h-1zM60 78h3v1h-3zM70 78h1v2h-1zM58 79h2v1h-2zM210 79h1v1h-1zM233 79h1v3h-1zM29 80h6v1h-6zM56 80h2v1h-2zM71 80h1v2h-1zM209 80h1v1h-1zM27 81h2v1h-2zM35 81h3v1h-3zM54 81h2v1h-2zM208 81h1v2h-1zM26 82h1v1h-1zM38 82h1v1h-1zM53 82h1v1h-1zM72 82h1v2h-1zM234 82h1v2h-1zM25 83h1v1h-1zM39 83h1v1h-1zM51 83h2v1h-2zM159 83h3v1h-3zM207 83h1v2h-1zM24 84h1v2h-1zM40 84h1v1h-1zM50 84h1v1h-1zM73 84h1v2h-1zM157 84h2v1h-2zM162 84h1v1h-1zM235 84h1v3h-1zM41 85h2v1h-2zM47 85h3v1h-3zM156 85h1v1h-1zM163 85h1v2h-1zM206 85h1v2h-1zM23 86h1v1h-1zM43 86h4v1h-4zM74 86h1v2h-1zM155 86h1v1h-1zM22 87h1v2h-1zM154 87h1v1h-1zM164 87h1v1h-1zM205 87h1v1h-1zM236 87h1v2h-1zM75 88h1v2h-1zM153 88h1v1h-1zM165 88h1v1h-1zM204 88h1v2h-1zM21 89h1v1h-1zM113 89h2v1h-2zM152 89h1v2h-1zM166 89h1v2h-1zM237 89h1v3h-1zM20 90h1v1h-1zM76 90h1v2h-1zM111 90h2v1h-2zM115 90h3v1h-3zM203 90h1v1h-1zM19 91h1v1h-1zM110 91h1v1h-1zM118 91h1v2h-1zM151 91h1v2h-1zM167 91h1v2h-1zM202 91h1v2h-1zM18 92h1v1h-1zM77 92h1v3h-1zM109 92h1v1h-1zM238 92h1v2h-1zM17 93h1v1h-1zM108 93h1v2h-1zM119 93h1v1h-1zM150 93h1v2h-1zM168 93h1v2h-1zM201 93h1v2h-1zM16 94h1v1h-1zM120 94h1v2h-1zM239 94h1v3h-1zM15 95h1v1h-1zM78 95h1v3h-1zM107 95h1v1h-1zM149 95h1v2h-1zM169 95h1v1h-1zM200 95h1v2h-1zM14 96h1v1h-1zM106 96h1v2h-1zM121 96h1v2h-1zM170 96h1v2h-1zM13 97h1v1h-1zM148 97h1v2h-1zM199 97h1v2h-1zM240 97h1v2h-1zM12 98h1v2h-1zM79 98h1v2h-1zM105 98h1v1h-1zM122 98h1v2h-1zM171 98h1v2h-1zM104 99h1v2h-1zM147 99h1v2h-1zM198 99h1v2h-1zM241 99h1v3h-1zM11 100h1v2h-1zM80 100h1v3h-1zM123 100h1v3h-1zM172 100h1v2h-1zM103 101h1v2h-1zM146 101h1v2h-1zM197 101h1v1h-1zM10 102h1v2h-1zM173 102h1v1h-1zM196 102h1v2h-1zM242 102h1v2h-1zM81 103h1v3h-1zM102 103h1v2h-1zM124 103h1v2h-1zM145 103h1v2h-1zM174 103h1v2h-1zM8 104h2v1h-2zM195 104h1v1h-1zM243 104h1v3h-1zM6 105h2v1h-2zM101 105h1v2h-1zM125 105h1v3h-1zM144 105h1v3h-1zM175 105h1v2h-1zM194 105h1v2h-1zM5 106h1v1h-1zM82 106h1v3h-1zM100 107h1v2h-1zM176 107h1v2h-1zM193 107h1v1h-1zM244 107h1v2h-1zM126 108h1v2h-1zM143 108h1v2h-1zM192 108h1v1h-1zM83 109h1v2h-1zM99 109h1v2h-1zM177 109h1v1h-1zM191 109h1v1h-1zM245 109h1v2h-1zM127 110h1v3h-1zM142 110h1v3h-1zM178 110h1v1h-1zM190 110h1v1h-1zM84 111h1v3h-1zM98 111h1v2h-1zM179 111h1v1h-1zM187 111h3v1h-3zM246 111h1v1h-1zM180 112h1v1h-1zM183 112h4v1h-4zM247 112h2v1h-2zM251 112h4v1h-4zM97 113h1v1h-1zM128 113h1v2h-1zM141 113h1v2h-1zM181 113h2v1h-2zM249 113h2v1h-2zM255 113h3v1h-3zM85 114h1v2h-1zM96 114h1v2h-1zM258 114h1v1h-1zM129 115h1v2h-1zM140 115h1v2h-1zM259 115h2v1h-2zM86 116h1v2h-1zM95 116h1v1h-1zM261 116h1v1h-1zM94 117h1v2h-1zM130 117h1v2h-1zM139 117h1v2h-1zM262 117h1v1h-1zM87 118h1v2h-1zM263 118h2v1h-2zM93 119h1v1h-1zM131 119h1v1h-1zM138 119h1v2h-1zM265 119h1v1h-1zM88 120h1v2h-1zM92 120h1v1h-1zM132 120h1v2h-1zM266 120h1v1h-1zM91 121h1v1h-1zM135 121h3v1h-3zM267 121h1v2h-1zM89 122h2v1h-2zM133 122h2v1h-2zM89 123h1v1h-1zM268 123h1v1h-1zM269 124h1v1h-1zM270 125h1v1h-1zM271 126h1v2h-1zM272 128h1v1h-1zM273 129h1v1h-1zM274 130h1v1h-1zM275 131h2v1h-2zM617 131h1v1h-1zM277 132h1v1h-1zM616 132h1v2h-1zM618 132h1v2h-1zM278 133h1v1h-1zM279 134h1v1h-1zM615 134h1v2h-1zM619 134h1v1h-1zM280 135h1v1h-1zM620 135h1v2h-1zM281 136h1v1h-1zM614 136h1v2h-1zM282 137h1v2h-1zM621 137h1v3h-1zM613 138h1v3h-1zM283 139h1v1h-1zM284 140h1v2h-1zM622 140h1v5h-1zM612 141h1v5h-1zM285 142h1v1h-1zM286 143h1v1h-1zM287 144h1v1h-1zM501 144h5v1h-5zM288 145h1v1h-1zM499 145h2v1h-2zM506 145h1v1h-1zM623 145h1v5h-1zM289 146h1v1h-1zM498 146h1v1h-1zM507 146h2v1h-2zM611 146h1v4h-1zM290 147h2v1h-2zM497 147h1v1h-1zM509 147h1v1h-1zM292 148h2v1h-2zM300 148h14v1h-14zM496 148h1v1h-1zM510 148h1v1h-1zM294 149h2v1h-2zM298 149h2v1h-2zM314 149h1v1h-1zM495 149h1v2h-1zM511 149h1v1h-1zM296 150h2v1h-2zM315 150h1v2h-1zM512 150h1v1h-1zM610 150h1v5h-1zM624 150h1v5h-1zM494 151h1v1h-1zM513 151h1v1h-1zM316 152h1v1h-1zM493 152h1v1h-1zM514 152h1v1h-1zM317 153h1v2h-1zM492 153h1v1h-1zM515 153h1v1h-1zM491 154h1v2h-1zM516 154h1v1h-1zM318 155h1v2h-1zM517 155h1v1h-1zM609 155h1v6h-1zM625 155h1v6h-1zM490 156h1v1h-1zM518 156h1v1h-1zM319 157h1v3h-1zM489 157h1v1h-1zM519 157h1v2h-1zM488 158h1v1h-1zM487 159h1v2h-1zM520 159h1v1h-1zM320 160h1v2h-1zM521 160h1v1h-1zM486 161h1v1h-1zM522 161h1v1h-1zM608 161h1v7h-1zM626 161h1v7h-1zM321 162h1v3h-1zM485 162h1v1h-1zM523 162h1v1h-1zM483 163h2v1h-2zM524 163h1v1h-1zM482 164h1v1h-1zM525 164h1v1h-1zM322 165h1v2h-1zM481 165h1v1h-1zM526 165h1v2h-1zM479 166h2v1h-2zM323 167h1v3h-1zM478 167h1v1h-1zM527 167h1v2h-1zM476 168h2v1h-2zM607 168h1v6h-1zM627 168h1v8h-1zM474 169h2v1h-2zM528 169h1v2h-1zM324 170h1v2h-1zM473 170h1v1h-1zM471 171h2v1h-2zM529 171h1v2h-1zM325 172h1v3h-1zM470 172h1v1h-1zM469 173h1v1h-1zM530 173h1v3h-1zM468 174h1v2h-1zM606 174h1v7h-1zM326 175h1v2h-1zM467 176h1v1h-1zM531 176h1v2h-1zM628 176h1v7h-1zM327 177h1v3h-1zM466 177h1v2h-1zM665 177h1v1h-1zM737 177h5v1h-5zM532 178h1v3h-1zM664 178h1v1h-1zM666 178h1v1h-1zM736 178h1v1h-1zM742 178h1v2h-1zM465 179h1v2h-1zM663 179h1v1h-1zM667 179h2v1h-2zM735 179h1v1h-1zM328 180h1v2h-1zM662 180h1v1h-1zM669 180h1v2h-1zM734 180h1v1h-1zM743 180h1v1h-1zM464 181h1v3h-1zM533 181h1v3h-1zM605 181h1v8h-1zM661 181h1v2h-1zM733 181h1v1h-1zM744 181h1v2h-1zM329 182h1v3h-1zM670 182h1v2h-1zM732 182h1v1h-1zM629 183h1v6h-1zM660 183h1v3h-1zM731 183h1v1h-1zM745 183h1v2h-1zM463 184h1v3h-1zM534 184h1v3h-1zM671 184h1v2h-1zM730 184h1v1h-1zM330 185h1v3h-1zM729 185h1v1h-1zM746 185h1v3h-1zM659 186h1v4h-1zM672 186h1v2h-1zM728 186h1v2h-1zM462 187h1v3h-1zM535 187h1v3h-1zM331 188h1v2h-1zM673 188h1v3h-1zM727 188h1v1h-1zM747 188h1v3h-1zM777 188h2v1h-2zM369 189h2v1h-2zM604 189h1v8h-1zM630 189h1v5h-1zM726 189h1v2h-1zM776 189h1v1h-1zM779 189h3v1h-3zM332 190h1v3h-1zM368 190h1v1h-1zM371 190h3v1h-3zM429 190h2v1h-2zM461 190h1v3h-1zM536 190h1v3h-1zM658 190h1v3h-1zM775 190h1v2h-1zM782 190h1v1h-1zM367 191h1v1h-1zM374 191h1v1h-1zM427 191h2v1h-2zM431 191h3v1h-3zM674 191h1v2h-1zM725 191h1v2h-1zM748 191h1v3h-1zM783 191h1v2h-1zM807 191h3v1h-3zM366 192h1v1h-1zM375 192h2v1h-2zM426 192h1v1h-1zM434 192h1v1h-1zM774 192h1v1h-1zM803 192h4v1h-4zM810 192h1v2h-1zM333 193h1v2h-1zM363 193h3v1h-3zM377 193h1v1h-1zM425 193h1v1h-1zM435 193h1v1h-1zM460 193h1v2h-1zM537 193h1v3h-1zM657 193h1v3h-1zM675 193h1v3h-1zM724 193h1v2h-1zM773 193h1v2h-1zM784 193h1v1h-1zM795 193h8v1h-8zM360 194h3v1h-3zM378 194h1v2h-1zM424 194h1v1h-1zM436 194h1v1h-1zM631 194h1v6h-1zM749 194h1v3h-1zM785 194h1v1h-1zM793 194h2v1h-2zM811 194h1v1h-1zM334 195h1v2h-1zM358 195h2v1h-2zM423 195h1v2h-1zM437 195h1v1h-1zM459 195h1v3h-1zM723 195h1v2h-1zM772 195h1v2h-1zM786 195h1v1h-1zM791 195h2v1h-2zM812 195h1v2h-1zM356 196h2v1h-2zM379 196h1v1h-1zM438 196h1v2h-1zM538 196h1v3h-1zM656 196h1v4h-1zM676 196h1v2h-1zM787 196h2v1h-2zM790 196h1v1h-1zM335 197h1v2h-1zM354 197h2v1h-2zM380 197h1v2h-1zM422 197h1v1h-1zM603 197h1v9h-1zM722 197h1v2h-1zM750 197h1v2h-1zM771 197h1v2h-1zM789 197h1v1h-1zM813 197h2v1h-2zM823 197h15v1h-15zM352 198h2v1h-2zM421 198h1v1h-1zM439 198h1v2h-1zM458 198h1v2h-1zM677 198h1v3h-1zM815 198h8v1h-8zM838 198h1v1h-1zM336 199h1v2h-1zM350 199h2v1h-2zM381 199h1v1h-1zM419 199h2v1h-2zM539 199h1v2h-1zM721 199h1v1h-1zM751 199h1v3h-1zM770 199h1v2h-1zM839 199h2v1h-2zM348 200h2v1h-2zM382 200h1v2h-1zM418 200h1v1h-1zM440 200h1v2h-1zM457 200h1v3h-1zM632 200h1v5h-1zM655 200h1v4h-1zM720 200h1v2h-1zM841 200h1v2h-1zM337 201h1v1h-1zM346 201h2v1h-2zM416 201h2v1h-2zM540 201h1v3h-1zM678 201h1v2h-1zM769 201h1v3h-1zM338 202h2v1h-2zM343 202h3v1h-3zM383 202h1v2h-1zM414 202h2v1h-2zM441 202h1v2h-1zM719 202h1v1h-1zM752 202h1v2h-1zM842 202h1v3h-1zM340 203h3v1h-3zM411 203h3v1h-3zM456 203h1v2h-1zM679 203h1v3h-1zM718 203h1v2h-1zM384 204h1v2h-1zM408 204h3v1h-3zM442 204h1v2h-1zM541 204h1v4h-1zM654 204h1v4h-1zM753 204h1v3h-1zM768 204h1v3h-1zM406 205h2v1h-2zM455 205h1v3h-1zM633 205h1v5h-1zM717 205h1v1h-1zM843 205h1v4h-1zM385 206h1v1h-1zM405 206h1v1h-1zM443 206h1v2h-1zM602 206h1v8h-1zM680 206h1v2h-1zM716 206h1v1h-1zM386 207h1v2h-1zM404 207h1v1h-1zM715 207h1v2h-1zM754 207h1v2h-1zM767 207h1v3h-1zM403 208h1v1h-1zM444 208h1v2h-1zM454 208h1v2h-1zM542 208h1v4h-1zM653 208h1v4h-1zM681 208h1v2h-1zM387 209h1v1h-1zM402 209h1v1h-1zM714 209h1v1h-1zM755 209h1v3h-1zM844 209h1v3h-1zM388 210h1v2h-1zM401 210h1v1h-1zM445 210h1v2h-1zM453 210h1v2h-1zM634 210h1v5h-1zM682 210h1v2h-1zM713 210h1v1h-1zM766 210h1v3h-1zM399 211h2v1h-2zM712 211h1v2h-1zM389 212h1v1h-1zM398 212h1v1h-1zM446 212h1v2h-1zM452 212h1v2h-1zM543 212h1v4h-1zM652 212h1v4h-1zM683 212h1v2h-1zM756 212h1v2h-1zM845 212h1v3h-1zM390 213h1v1h-1zM396 213h2v1h-2zM711 213h1v1h-1zM765 213h1v3h-1zM391 214h2v1h-2zM394 214h2v1h-2zM447 214h1v1h-1zM451 214h1v1h-1zM601 214h1v8h-1zM684 214h1v2h-1zM710 214h1v2h-1zM757 214h1v2h-1zM393 215h1v1h-1zM448 215h1v2h-1zM450 215h1v2h-1zM635 215h1v5h-1zM846 215h1v2h-1zM544 216h1v4h-1zM651 216h1v4h-1zM685 216h1v1h-1zM709 216h1v1h-1zM758 216h1v2h-1zM764 216h1v2h-1zM449 217h1v1h-1zM686 217h1v1h-1zM707 217h2v1h-2zM847 217h1v2h-1zM687 218h1v2h-1zM706 218h1v1h-1zM759 218h1v2h-1zM763 218h1v2h-1zM697 219h9v1h-9zM848 219h1v2h-1zM545 220h1v5h-1zM636 220h1v5h-1zM650 220h1v4h-1zM688 220h1v1h-1zM696 220h1v1h-1zM760 220h1v2h-1zM762 220h1v2h-1zM689 221h1v1h-1zM695 221h1v1h-1zM849 221h1v2h-1zM600 222h1v7h-1zM690 222h2v1h-2zM694 222h1v1h-1zM761 222h1v1h-1zM692 223h2v1h-2zM850 223h1v2h-1zM649 224h1v5h-1zM546 225h1v4h-1zM637 225h1v5h-1zM851 225h1v1h-1zM852 226h1v2h-1zM853 228h1v1h-1zM547 229h1v5h-1zM599 229h1v7h-1zM648 229h1v4h-1zM854 229h1v2h-1zM638 230h1v5h-1zM855 231h1v1h-1zM856 232h1v2h-1zM647 233h1v4h-1zM548 234h1v4h-1zM857 234h1v1h-1zM639 235h1v5h-1zM858 235h1v1h-1zM598 236h1v7h-1zM859 236h1v1h-1zM646 237h1v4h-1zM860 237h1v1h-1zM549 238h1v4h-1zM861 238h1v1h-1zM862 239h1v1h-1zM640 240h1v5h-1zM863 240h2v1h-2zM867 240h7v1h-7zM645 241h1v3h-1zM865 241h2v1h-2zM874 241h1v1h-1zM550 242h1v4h-1zM875 242h1v2h-1zM597 243h1v6h-1zM644 244h1v1h-1zM876 244h1v1h-1zM641 245h1v3h-1zM643 245h1v1h-1zM877 245h1v2h-1zM551 246h1v4h-1zM642 246h1v1h-1zM878 247h1v2h-1zM596 249h1v5h-1zM879 249h1v3h-1zM552 250h1v4h-1zM880 252h1v2h-1zM553 254h1v5h-1zM595 254h1v4h-1zM881 254h1v3h-1zM882 257h1v4h-1zM594 258h1v5h-1zM554 259h1v5h-1zM883 261h1v3h-1zM593 263h1v5h-1zM555 264h1v6h-1zM884 264h1v4h-1zM592 268h1v5h-1zM885 268h1v4h-1zM556 270h1v5h-1zM886 272h1v4h-1zM591 273h1v6h-1zM557 275h1v6h-1zM887 276h1v5h-1zM590 279h1v5h-1zM558 281h1v6h-1zM888 281h1v4h-1zM589 284h1v5h-1zM909 284h10v1h-10zM889 285h1v4h-1zM909 285h1v1h-1zM919 285h3v1h-3zM908 286h1v2h-1zM922 286h1v1h-1zM559 287h1v7h-1zM923 287h2v1h-2zM907 288h1v3h-1zM925 288h1v1h-1zM588 289h1v5h-1zM890 289h1v3h-1zM926 289h1v1h-1zM927 290h1v1h-1zM906 291h1v2h-1zM928 291h1v1h-1zM891 292h1v2h-1zM929 292h1v1h-1zM905 293h1v2h-1zM930 293h1v1h-1zM560 294h1v6h-1zM587 294h1v5h-1zM892 294h1v3h-1zM931 294h1v1h-1zM904 295h1v2h-1zM932 295h1v1h-1zM933 296h1v1h-1zM893 297h1v2h-1zM903 297h1v1h-1zM934 297h1v1h-1zM949 297h2v1h-2zM902 298h1v2h-1zM935 298h1v1h-1zM948 298h1v1h-1zM951 298h3v1h-3zM586 299h1v5h-1zM894 299h1v1h-1zM936 299h1v1h-1zM947 299h1v2h-1zM954 299h2v1h-2zM561 300h1v6h-1zM895 300h2v1h-2zM899 300h3v1h-3zM937 300h1v1h-1zM956 300h2v1h-2zM897 301h2v1h-2zM938 301h2v1h-2zM946 301h1v1h-1zM958 301h2v1h-2zM940 302h6v1h-6zM960 302h2v1h-2zM962 303h2v1h-2zM585 304h1v5h-1zM964 304h2v1h-2zM966 305h1v1h-1zM562 306h1v6h-1zM967 306h1v1h-1zM968 307h1v1h-1zM969 308h1v1h-1zM584 309h1v5h-1zM970 309h1v1h-1zM971 310h1v2h-1zM563 312h1v6h-1zM972 312h1v1h-1zM973 313h1v1h-1zM583 314h1v4h-1zM974 314h1v2h-1zM975 316h1v2h-1zM564 318h1v6h-1zM582 318h1v5h-1zM976 318h1v2h-1zM977 320h1v1h-1zM978 321h1v2h-1zM581 323h1v5h-1zM979 323h1v2h-1zM565 324h1v6h-1zM980 325h1v2h-1zM981 327h1v1h-1zM580 328h1v4h-1zM982 328h1v2h-1zM1008 328h2v1h-2zM1006 329h2v1h-2zM1010 329h2v1h-2zM566 330h1v5h-1zM983 330h1v1h-1zM1005 330h1v1h-1zM1012 330h2v1h-2zM984 331h1v2h-1zM1004 331h1v1h-1zM1014 331h2v1h-2zM579 332h1v5h-1zM1003 332h1v2h-1zM1016 332h6v1h-6zM985 333h1v1h-1zM1022 333h1v2h-1zM986 334h2v1h-2zM1002 334h1v1h-1zM567 335h1v5h-1zM988 335h14v1h-14zM1023 335h1v2h-1zM578 337h1v4h-1zM1024 337h1v2h-1zM1025 339h1v2h-1zM568 340h1v5h-1zM577 341h1v5h-1zM1026 341h1v3h-1zM1027 344h1v3h-1zM569 345h1v4h-1zM576 346h1v4h-1zM1028 347h1v3h-1zM570 349h1v3h-1zM575 350h1v4h-1zM1029 350h1v3h-1zM571 352h1v3h-1zM1030 353h1v4h-1zM574 354h1v4h-1zM572 355h1v3h-1zM1031 357h1v4h-1zM573 358h1v2h-1zM1032 361h1v4h-1zM1033 365h1v4h-1zM1034 369h1v4h-1zM1035 373h1v4h-1zM1036 377h1v4h-1zM1037 381h1v3h-1zM1038 384h1v4h-1zM1039 388h1v3h-1zM1040 391h1v4h-1zM1041 395h1v3h-1zM1261 397h2v1h-2zM1042 398h1v4h-1zM1260 398h1v1h-1zM1263 398h3v1h-3zM1259 399h1v2h-1zM1266 399h1v2h-1zM1258 401h1v1h-1zM1267 401h1v1h-1zM1043 402h1v4h-1zM1257 402h1v2h-1zM1268 402h1v2h-1zM1256 404h1v2h-1zM1269 404h1v1h-1zM1044 406h1v4h-1zM1255 406h1v3h-1zM1254 409h1v2h-1zM1045 410h1v3h-1zM1253 411h1v4h-1zM1046 413h1v2h-1zM1047 415h1v1h-1zM1252 415h1v4h-1zM1048 416h1v2h-1zM1049 418h1v2h-1zM1251 419h1v4h-1zM1050 420h1v3h-1zM1051 423h1v3h-1zM1250 423h1v4h-1zM1052 426h1v3h-1zM1249 427h1v3h-1zM1053 429h1v3h-1zM1248 430h1v4h-1zM1054 432h1v2h-1zM1055 434h1v3h-1zM1247 434h1v4h-1zM1056 437h1v2h-1zM1246 438h1v4h-1zM1057 439h1v3h-1zM1058 442h1v2h-1zM1245 442h1v3h-1zM1059 444h1v2h-1zM1244 445h1v3h-1zM1060 446h1v2h-1zM1061 448h1v2h-1zM1243 448h1v4h-1zM1062 450h1v1h-1zM1063 451h1v2h-1zM1197 451h1v1h-1zM1195 452h2v1h-2zM1198 452h1v2h-1zM1242 452h1v3h-1zM1064 453h1v1h-1zM1067 453h7v1h-7zM1100 453h2v1h-2zM1194 453h1v1h-1zM1065 454h2v1h-2zM1074 454h1v1h-1zM1098 454h2v1h-2zM1102 454h1v1h-1zM1193 454h1v1h-1zM1199 454h1v1h-1zM1075 455h1v1h-1zM1097 455h1v2h-1zM1103 455h2v1h-2zM1192 455h1v2h-1zM1200 455h1v2h-1zM1241 455h1v3h-1zM1076 456h1v1h-1zM1105 456h1v1h-1zM1077 457h2v1h-2zM1096 457h1v2h-1zM1106 457h1v2h-1zM1191 457h1v2h-1zM1201 457h1v1h-1zM1079 458h4v1h-4zM1202 458h1v1h-1zM1240 458h1v3h-1zM1083 459h3v1h-3zM1095 459h1v2h-1zM1107 459h1v1h-1zM1190 459h1v2h-1zM1203 459h2v1h-2zM1086 460h1v1h-1zM1108 460h1v2h-1zM1205 460h1v1h-1zM1087 461h1v2h-1zM1094 461h1v2h-1zM1189 461h1v2h-1zM1206 461h1v2h-1zM1239 461h1v2h-1zM1109 462h1v1h-1zM1088 463h1v1h-1zM1093 463h1v2h-1zM1110 463h1v1h-1zM1188 463h1v2h-1zM1207 463h1v1h-1zM1238 463h1v3h-1zM1089 464h4v1h-4zM1111 464h1v2h-1zM1208 464h1v2h-1zM1187 465h1v2h-1zM1112 466h1v1h-1zM1209 466h1v1h-1zM1237 466h1v2h-1zM1113 467h1v2h-1zM1141 467h6v1h-6zM1186 467h1v2h-1zM1210 467h1v2h-1zM1140 468h1v1h-1zM1147 468h3v1h-3zM1236 468h1v2h-1zM1114 469h1v2h-1zM1139 469h1v2h-1zM1150 469h1v2h-1zM1185 469h1v3h-1zM1211 469h1v2h-1zM1235 470h1v2h-1zM1115 471h1v2h-1zM1138 471h1v1h-1zM1151 471h1v2h-1zM1212 471h1v2h-1zM1137 472h1v1h-1zM1184 472h1v2h-1zM1234 472h1v2h-1zM1116 473h1v2h-1zM1136 473h1v2h-1zM1152 473h1v2h-1zM1213 473h1v2h-1zM1183 474h1v2h-1zM1233 474h1v1h-1zM1117 475h1v2h-1zM1135 475h1v2h-1zM1153 475h1v1h-1zM1214 475h1v1h-1zM1231 475h2v1h-2zM1154 476h1v2h-1zM1182 476h1v2h-1zM1215 476h1v2h-1zM1230 476h1v1h-1zM1118 477h1v2h-1zM1134 477h1v2h-1zM1228 477h2v1h-2zM1155 478h1v2h-1zM1181 478h1v2h-1zM1216 478h1v1h-1zM1226 478h2v1h-2zM1119 479h1v2h-1zM1133 479h1v1h-1zM1217 479h9v1h-9zM1132 480h1v1h-1zM1156 480h1v2h-1zM1180 480h1v2h-1zM1120 481h1v2h-1zM1131 481h1v1h-1zM1130 482h1v1h-1zM1157 482h1v1h-1zM1179 482h1v2h-1zM1121 483h1v2h-1zM1127 483h3v1h-3zM1158 483h1v2h-1zM1122 484h5v1h-5zM1178 484h1v2h-1zM1159 485h1v2h-1zM1177 486h1v1h-1zM1160 487h1v2h-1zM1176 487h1v1h-1zM1175 488h1v2h-1zM1161 489h1v1h-1zM1162 490h1v1h-1zM1174 490h1v1h-1zM1163 491h1v1h-1zM1172 491h2v1h-2zM1164 492h1v1h-1zM1170 492h2v1h-2zM1165 493h5v1h-5z"/>
<rect x="4" y="25" width="1594" height="1" fill="#000"/><rect x="4" y="530" width="1594" height="1" fill="#000"/><rect x="4" y="25" width="1" height="506" fill="#000"/><rect x="1597" y="25" width="1" height="506" fill="#000"/><rect x="4" y="532" width="1594" height="1" fill="#000"/><rect x="4" y="624" width="1594" height="1" fill="#000"/><rect x="4" y="532" width="1" height="93" fill="#000"/><rect x="1597" y="532" width="1" height="93" fill="#000"/><rect x="4" y="626" width="1594" height="1" fill="#000"/><rect x="4" y="718" width="1594" height="1" fill="#000"/><rect x="4" y="626" width="1" height="93" fill="#000"/><rect x="1597" y="626" width="1" height="93" fill="#000"/>
<rect x="5" y="255" width="1594" height="2" fill="#ff0000"/><rect x="4" y="253" width="6" height="6" fill="#ff0000"/><rect x="6" y="255" width="2" height="2" fill="#fff"/><rect x="1591" y="253" width="6" height="6" fill="#ff0000"/><rect x="1593" y="255" width="2" height="2" fill="#fff"/>
<rect x="5" y="314" width="1594" height="2" fill="#ff0000"/><rect x="4" y="312" width="6" height="6" fill="#ff0000"/><rect x="6" y="314" width="2" height="2" fill="#fff"/><rect x="1591" y="312" width="6" height="6" fill="#ff0000"/><rect x="1593" y="314" width="2" height="2" fill="#fff"/>
<rect x="5" y="378" width="1594" height="2" fill="#ff0000"/><rect x="4" y="376" width="6" height="6" fill="#ff0000"/><rect x="6" y="378" width="2" height="2" fill="#fff"/><rect x="1591" y="376" width="6" height="6" fill="#ff0000"/><rect x="1593" y="378" width="2" height="2" fill="#fff"/>
<rect x="5" y="439" width="1594" height="2" fill="#00ff00"/><rect x="4" y="437" width="6" height="6" fill="#00ff00"/><rect x="6" y="439" width="2" height="2" fill="#fff"/><rect x="1591" y="437" width="6" height="6" fill="#00ff00"/><rect x="1593" y="439" width="2" height="2" fill="#fff"/>
<rect x="5" y="515" width="1594" height="2" fill="#0000ff"/><rect x="4" y="513" width="6" height="6" fill="#0000ff"/><rect x="6" y="515" width="2" height="2" fill="#fff"/><rect x="1591" y="513" width="6" height="6" fill="#0000ff"/><rect x="1593" y="515" width="2" height="2" fill="#fff"/>
<g stroke="#c0c0c0" stroke-width="1" stroke-dasharray="3 3"><line x1="6" y1="560.5" x2="1597" y2="560.5"/><line x1="6" y1="596.5" x2="1597" y2="596.5"/></g>
<path fill="#1e90ff" d="M1252 559h3v1h-3zM1250 560h2v1h-2zM1255 560h3v1h-3zM1248 561h2v1h-2zM1258 561h1v2h-1zM501 562h1v1h-1zM607 562h3v1h-3zM1247 562h1v1h-1zM499 563h2v1h-2zM502 563h2v1h-2zM603 563h4v1h-4zM610 563h1v2h-1zM1246 563h1v1h-1zM1259 563h1v2h-1zM485 564h11v1h-11zM498 564h1v1h-1zM504 564h1v2h-1zM601 564h2v1h-2zM1244 564h2v1h-2zM484 565h1v1h-1zM496 565h2v1h-2zM600 565h1v1h-1zM611 565h1v1h-1zM1243 565h1v1h-1zM1260 565h1v2h-1zM220 566h5v1h-5zM483 566h1v1h-1zM505 566h1v2h-1zM599 566h1v2h-1zM612 566h1v2h-1zM1242 566h1v1h-1zM13 567h1v2h-1zM208 567h8v1h-8zM218 567h2v1h-2zM224 567h1v1h-1zM482 567h1v1h-1zM1240 567h2v1h-2zM1261 567h1v1h-1zM14 568h1v2h-1zM65 568h1v1h-1zM151 568h2v1h-2zM206 568h2v1h-2zM216 568h2v1h-2zM225 568h1v4h-1zM481 568h1v1h-1zM506 568h1v2h-1zM598 568h1v1h-1zM613 568h4v1h-4zM1239 568h1v1h-1zM1262 568h1v2h-1zM12 569h1v2h-1zM63 569h2v1h-2zM66 569h1v2h-1zM149 569h2v1h-2zM153 569h1v2h-1zM199 569h7v1h-7zM479 569h2v1h-2zM597 569h1v1h-1zM617 569h2v1h-2zM1238 569h1v1h-1zM15 570h1v2h-1zM21 570h6v1h-6zM54 570h4v1h-4zM61 570h2v1h-2zM147 570h2v1h-2zM197 570h2v1h-2zM462 570h14v1h-14zM478 570h1v1h-1zM507 570h1v2h-1zM596 570h1v2h-1zM619 570h2v1h-2zM1237 570h1v2h-1zM1263 570h1v1h-1zM11 571h1v3h-1zM20 571h1v1h-1zM27 571h2v1h-2zM52 571h2v1h-2zM58 571h3v1h-3zM67 571h1v2h-1zM109 571h1v1h-1zM146 571h1v1h-1zM154 571h1v1h-1zM197 571h1v1h-1zM460 571h2v1h-2zM476 571h2v1h-2zM620 571h1v1h-1zM654 571h2v1h-2zM724 571h10v1h-10zM1264 571h1v1h-1zM16 572h1v2h-1zM19 572h1v1h-1zM29 572h2v1h-2zM50 572h2v1h-2zM107 572h2v1h-2zM110 572h1v2h-1zM145 572h1v1h-1zM155 572h1v1h-1zM196 572h1v2h-1zM226 572h1v3h-1zM457 572h3v1h-3zM508 572h1v2h-1zM595 572h1v1h-1zM621 572h1v2h-1zM652 572h2v1h-2zM656 572h6v1h-6zM722 572h2v1h-2zM734 572h2v1h-2zM739 572h3v1h-3zM1236 572h1v2h-1zM1265 572h2v1h-2zM18 573h1v1h-1zM31 573h2v1h-2zM48 573h2v1h-2zM68 573h1v2h-1zM106 573h1v1h-1zM144 573h1v1h-1zM156 573h1v2h-1zM427 573h2v1h-2zM455 573h2v1h-2zM594 573h1v2h-1zM650 573h2v1h-2zM662 573h1v1h-1zM720 573h2v1h-2zM736 573h3v1h-3zM741 573h1v1h-1zM764 573h6v1h-6zM1192 573h2v1h-2zM1267 573h2v1h-2zM5 574h1v1h-1zM10 574h1v2h-1zM17 574h1v1h-1zM33 574h7v1h-7zM44 574h4v1h-4zM101 574h5v1h-5zM111 574h1v1h-1zM143 574h1v1h-1zM195 574h1v2h-1zM425 574h2v1h-2zM428 574h1v1h-1zM454 574h1v1h-1zM509 574h1v2h-1zM622 574h1v2h-1zM649 574h1v1h-1zM663 574h1v2h-1zM718 574h2v1h-2zM742 574h1v2h-1zM762 574h2v1h-2zM770 574h1v1h-1zM1190 574h2v1h-2zM1194 574h1v1h-1zM1235 574h1v3h-1zM6 575h1v1h-1zM40 575h4v1h-4zM69 575h1v3h-1zM99 575h2v1h-2zM112 575h1v2h-1zM142 575h1v1h-1zM157 575h4v1h-4zM227 575h1v4h-1zM424 575h1v2h-1zM429 575h1v2h-1zM453 575h1v1h-1zM510 575h1v1h-1zM593 575h1v2h-1zM647 575h2v1h-2zM716 575h2v1h-2zM761 575h1v2h-1zM771 575h1v2h-1zM793 575h7v1h-7zM1181 575h1v1h-1zM1189 575h1v1h-1zM1195 575h1v2h-1zM7 576h3v1h-3zM98 576h1v1h-1zM139 576h3v1h-3zM161 576h1v2h-1zM188 576h1v1h-1zM194 576h1v2h-1zM452 576h1v2h-1zM511 576h7v1h-7zM623 576h1v2h-1zM646 576h1v1h-1zM664 576h1v1h-1zM714 576h2v1h-2zM743 576h1v3h-1zM779 576h2v1h-2zM791 576h2v1h-2zM800 576h2v1h-2zM808 576h1v1h-1zM820 576h8v1h-8zM1180 576h1v1h-1zM1182 576h1v1h-1zM1187 576h2v1h-2zM9 577h1v1h-1zM96 577h2v1h-2zM113 577h1v1h-1zM137 577h2v1h-2zM187 577h1v2h-1zM189 577h2v1h-2zM423 577h1v2h-1zM430 577h1v2h-1zM518 577h1v1h-1zM524 577h2v1h-2zM592 577h1v3h-1zM645 577h1v1h-1zM665 577h5v1h-5zM697 577h1v1h-1zM712 577h2v1h-2zM760 577h1v2h-1zM772 577h1v1h-1zM775 577h4v1h-4zM781 577h1v1h-1zM790 577h1v1h-1zM802 577h2v1h-2zM807 577h1v2h-1zM809 577h1v2h-1zM818 577h2v1h-2zM828 577h2v1h-2zM1179 577h1v2h-1zM1183 577h2v1h-2zM1186 577h1v1h-1zM1196 577h1v1h-1zM1234 577h1v2h-1zM70 578h1v4h-1zM95 578h1v1h-1zM114 578h1v1h-1zM136 578h1v2h-1zM162 578h1v1h-1zM191 578h3v1h-3zM451 578h1v1h-1zM519 578h2v1h-2zM522 578h2v1h-2zM525 578h1v1h-1zM624 578h1v2h-1zM643 578h2v1h-2zM670 578h2v1h-2zM696 578h1v1h-1zM698 578h2v1h-2zM703 578h4v1h-4zM710 578h2v1h-2zM773 578h2v1h-2zM782 578h2v1h-2zM788 578h2v1h-2zM804 578h2v1h-2zM817 578h1v1h-1zM830 578h1v2h-1zM1185 578h1v1h-1zM1197 578h1v1h-1zM93 579h2v1h-2zM115 579h1v2h-1zM163 579h1v1h-1zM186 579h1v1h-1zM193 579h1v1h-1zM228 579h1v2h-1zM422 579h1v2h-1zM431 579h1v2h-1zM450 579h1v1h-1zM521 579h1v1h-1zM526 579h1v3h-1zM641 579h2v1h-2zM672 579h2v1h-2zM684 579h2v1h-2zM695 579h1v1h-1zM700 579h3v1h-3zM707 579h3v1h-3zM744 579h1v2h-1zM759 579h1v1h-1zM784 579h1v1h-1zM786 579h2v1h-2zM806 579h1v1h-1zM810 579h1v1h-1zM816 579h1v1h-1zM837 579h1v1h-1zM1178 579h1v1h-1zM1198 579h1v1h-1zM1233 579h1v2h-1zM92 580h1v1h-1zM135 580h1v2h-1zM164 580h1v2h-1zM185 580h1v2h-1zM449 580h1v1h-1zM591 580h1v3h-1zM625 580h1v1h-1zM639 580h2v1h-2zM674 580h2v1h-2zM680 580h4v1h-4zM686 580h1v1h-1zM694 580h1v1h-1zM758 580h1v2h-1zM785 580h1v1h-1zM811 580h1v2h-1zM815 580h1v2h-1zM831 580h1v1h-1zM836 580h1v1h-1zM838 580h1v1h-1zM1172 580h6v1h-6zM1199 580h1v2h-1zM1225 580h8v1h-8zM90 581h2v1h-2zM116 581h1v1h-1zM229 581h1v2h-1zM414 581h6v1h-6zM421 581h1v2h-1zM432 581h1v2h-1zM448 581h1v1h-1zM583 581h3v1h-3zM626 581h1v1h-1zM637 581h2v1h-2zM676 581h4v1h-4zM687 581h1v2h-1zM693 581h1v1h-1zM745 581h1v2h-1zM832 581h1v2h-1zM835 581h1v1h-1zM839 581h1v1h-1zM1171 581h1v2h-1zM1207 581h2v1h-2zM1223 581h2v1h-2zM71 582h1v4h-1zM89 582h1v1h-1zM117 582h1v1h-1zM134 582h1v2h-1zM165 582h1v1h-1zM173 582h5v1h-5zM184 582h1v1h-1zM245 582h6v1h-6zM405 582h1v1h-1zM412 582h2v1h-2zM420 582h1v1h-1zM447 582h1v2h-1zM527 582h1v3h-1zM577 582h6v1h-6zM586 582h1v2h-1zM627 582h1v2h-1zM636 582h1v1h-1zM691 582h2v1h-2zM757 582h1v2h-1zM812 582h1v2h-1zM814 582h1v2h-1zM834 582h1v1h-1zM840 582h1v2h-1zM949 582h1v1h-1zM1005 582h5v1h-5zM1133 582h6v1h-6zM1200 582h1v1h-1zM1203 582h4v1h-4zM1209 582h2v1h-2zM1216 582h3v1h-3zM1222 582h1v1h-1zM88 583h1v1h-1zM118 583h1v2h-1zM166 583h1v1h-1zM171 583h2v1h-2zM178 583h1v1h-1zM183 583h1v1h-1zM230 583h1v2h-1zM244 583h1v1h-1zM251 583h1v1h-1zM404 583h1v1h-1zM406 583h2v1h-2zM410 583h2v1h-2zM433 583h1v2h-1zM577 583h1v1h-1zM590 583h1v3h-1zM635 583h1v2h-1zM688 583h1v1h-1zM690 583h1v1h-1zM746 583h1v2h-1zM833 583h1v1h-1zM869 583h2v1h-2zM897 583h1v1h-1zM948 583h1v1h-1zM950 583h1v1h-1zM1005 583h1v1h-1zM1010 583h1v2h-1zM1132 583h1v1h-1zM1139 583h2v1h-2zM1170 583h1v2h-1zM1201 583h2v1h-2zM1211 583h2v1h-2zM1214 583h2v1h-2zM1219 583h3v1h-3zM87 584h1v1h-1zM133 584h1v2h-1zM167 584h2v1h-2zM170 584h1v1h-1zM179 584h1v1h-1zM182 584h1v2h-1zM243 584h1v1h-1zM252 584h2v1h-2zM363 584h4v1h-4zM403 584h1v2h-1zM408 584h2v1h-2zM446 584h1v1h-1zM576 584h1v4h-1zM587 584h1v1h-1zM628 584h2v1h-2zM689 584h1v1h-1zM756 584h1v1h-1zM813 584h1v1h-1zM841 584h1v1h-1zM869 584h1v1h-1zM871 584h3v1h-3zM896 584h1v1h-1zM898 584h2v1h-2zM915 584h7v1h-7zM947 584h1v1h-1zM951 584h1v1h-1zM1004 584h1v2h-1zM1125 584h1v2h-1zM1131 584h1v2h-1zM1141 584h3v1h-3zM1213 584h1v1h-1zM86 585h1v1h-1zM119 585h1v1h-1zM169 585h1v1h-1zM180 585h1v1h-1zM231 585h1v2h-1zM242 585h1v1h-1zM254 585h1v1h-1zM361 585h2v1h-2zM367 585h3v1h-3zM397 585h1v1h-1zM434 585h1v1h-1zM445 585h1v1h-1zM528 585h1v3h-1zM588 585h1v2h-1zM630 585h2v1h-2zM634 585h1v1h-1zM747 585h1v1h-1zM754 585h2v1h-2zM842 585h1v1h-1zM868 585h1v2h-1zM874 585h1v1h-1zM894 585h2v1h-2zM900 585h2v1h-2zM908 585h7v1h-7zM922 585h1v1h-1zM935 585h9v1h-9zM946 585h1v1h-1zM952 585h1v1h-1zM1011 585h1v1h-1zM1126 585h1v1h-1zM1144 585h4v1h-4zM1169 585h1v2h-1zM72 586h1v3h-1zM85 586h1v1h-1zM120 586h1v1h-1zM131 586h2v1h-2zM181 586h1v1h-1zM237 586h5v1h-5zM255 586h1v1h-1zM264 586h1v1h-1zM296 586h6v1h-6zM313 586h1v1h-1zM360 586h1v1h-1zM370 586h2v1h-2zM395 586h2v1h-2zM398 586h2v1h-2zM402 586h1v1h-1zM435 586h1v2h-1zM444 586h1v1h-1zM589 586h1v2h-1zM632 586h2v1h-2zM748 586h1v2h-1zM752 586h2v1h-2zM843 586h2v1h-2zM856 586h3v1h-3zM875 586h1v1h-1zM893 586h1v1h-1zM902 586h2v1h-2zM906 586h2v1h-2zM923 586h1v1h-1zM934 586h1v1h-1zM944 586h2v1h-2zM953 586h2v1h-2zM1003 586h1v3h-1zM1012 586h1v2h-1zM1095 586h3v1h-3zM1124 586h1v3h-1zM1127 586h2v1h-2zM1130 586h1v1h-1zM1148 586h4v1h-4zM84 587h1v1h-1zM121 587h2v1h-2zM128 587h3v1h-3zM232 587h1v2h-1zM236 587h1v1h-1zM256 587h2v1h-2zM263 587h1v1h-1zM265 587h1v1h-1zM294 587h2v1h-2zM302 587h1v1h-1zM312 587h1v1h-1zM314 587h1v2h-1zM359 587h1v2h-1zM372 587h1v1h-1zM393 587h2v1h-2zM400 587h2v1h-2zM443 587h1v2h-1zM750 587h2v1h-2zM845 587h7v1h-7zM854 587h2v1h-2zM859 587h3v1h-3zM867 587h1v2h-1zM876 587h1v2h-1zM892 587h1v3h-1zM904 587h2v1h-2zM924 587h1v1h-1zM933 587h1v1h-1zM955 587h12v1h-12zM1093 587h2v1h-2zM1098 587h1v1h-1zM1129 587h1v1h-1zM1152 587h1v1h-1zM1168 587h1v2h-1zM83 588h1v1h-1zM123 588h2v1h-2zM126 588h2v1h-2zM235 588h1v1h-1zM258 588h5v1h-5zM266 588h1v1h-1zM293 588h1v2h-1zM303 588h2v1h-2zM311 588h1v1h-1zM353 588h1v1h-1zM373 588h2v1h-2zM388 588h5v1h-5zM436 588h1v1h-1zM529 588h1v2h-1zM575 588h1v4h-1zM749 588h1v1h-1zM852 588h2v1h-2zM862 588h1v1h-1zM925 588h1v1h-1zM932 588h1v1h-1zM967 588h2v1h-2zM993 588h2v1h-2zM1013 588h2v1h-2zM1019 588h3v1h-3zM1091 588h2v1h-2zM1099 588h1v2h-1zM1153 588h1v1h-1zM73 589h2v1h-2zM82 589h1v1h-1zM125 589h1v1h-1zM233 589h2v1h-2zM267 589h1v2h-1zM273 589h2v1h-2zM305 589h2v1h-2zM310 589h1v1h-1zM315 589h1v2h-1zM352 589h1v2h-1zM354 589h2v1h-2zM358 589h1v1h-1zM375 589h1v1h-1zM387 589h1v2h-1zM437 589h2v1h-2zM442 589h1v1h-1zM863 589h1v2h-1zM866 589h1v2h-1zM877 589h1v1h-1zM926 589h1v1h-1zM931 589h1v1h-1zM969 589h2v1h-2zM992 589h1v1h-1zM995 589h3v1h-3zM1002 589h1v2h-1zM1015 589h4v1h-4zM1022 589h1v1h-1zM1085 589h2v1h-2zM1090 589h1v1h-1zM1123 589h1v4h-1zM1154 589h2v1h-2zM1160 589h1v1h-1zM1167 589h1v2h-1zM75 590h3v1h-3zM81 590h1v1h-1zM233 590h1v1h-1zM271 590h2v1h-2zM275 590h2v1h-2zM292 590h1v1h-1zM307 590h3v1h-3zM345 590h1v1h-1zM356 590h2v1h-2zM376 590h1v1h-1zM439 590h3v1h-3zM530 590h2v1h-2zM878 590h1v1h-1zM891 590h1v5h-1zM927 590h2v1h-2zM930 590h1v1h-1zM971 590h2v1h-2zM991 590h1v1h-1zM998 590h1v1h-1zM1023 590h1v2h-1zM1084 590h1v2h-1zM1087 590h3v1h-3zM1100 590h1v1h-1zM1156 590h1v1h-1zM1158 590h2v1h-2zM1161 590h1v1h-1zM78 591h3v1h-3zM268 591h1v1h-1zM270 591h1v1h-1zM277 591h1v1h-1zM285 591h1v1h-1zM291 591h1v1h-1zM316 591h1v2h-1zM343 591h2v1h-2zM346 591h1v1h-1zM351 591h1v1h-1zM377 591h1v1h-1zM386 591h1v2h-1zM532 591h1v1h-1zM864 591h2v1h-2zM879 591h1v1h-1zM929 591h1v1h-1zM973 591h2v1h-2zM990 591h1v1h-1zM999 591h3v1h-3zM1101 591h2v1h-2zM1157 591h1v1h-1zM1162 591h2v1h-2zM1166 591h1v2h-1zM269 592h1v1h-1zM278 592h1v1h-1zM284 592h1v1h-1zM286 592h1v1h-1zM290 592h1v2h-1zM342 592h1v1h-1zM347 592h1v1h-1zM350 592h1v2h-1zM378 592h1v1h-1zM533 592h2v1h-2zM574 592h1v4h-1zM865 592h1v1h-1zM880 592h1v2h-1zM975 592h3v1h-3zM985 592h5v1h-5zM1001 592h1v1h-1zM1024 592h1v1h-1zM1069 592h1v2h-1zM1083 592h1v1h-1zM1103 592h11v1h-11zM1164 592h1v1h-1zM279 593h1v1h-1zM283 593h1v1h-1zM287 593h2v1h-2zM317 593h1v1h-1zM341 593h1v1h-1zM348 593h1v1h-1zM379 593h1v1h-1zM385 593h1v2h-1zM535 593h1v1h-1zM978 593h1v1h-1zM983 593h2v1h-2zM1025 593h1v1h-1zM1070 593h2v1h-2zM1082 593h1v2h-1zM1114 593h1v1h-1zM1122 593h1v3h-1zM1165 593h1v1h-1zM280 594h1v1h-1zM282 594h1v1h-1zM289 594h1v1h-1zM318 594h1v1h-1zM340 594h1v1h-1zM349 594h1v1h-1zM380 594h1v1h-1zM536 594h1v1h-1zM881 594h1v1h-1zM979 594h2v1h-2zM982 594h1v1h-1zM1026 594h1v1h-1zM1068 594h1v2h-1zM1072 594h2v1h-2zM1115 594h2v1h-2zM281 595h1v1h-1zM319 595h2v1h-2zM339 595h1v1h-1zM381 595h4v1h-4zM537 595h1v2h-1zM882 595h1v1h-1zM890 595h1v4h-1zM981 595h1v1h-1zM1027 595h1v2h-1zM1074 595h1v2h-1zM1081 595h1v1h-1zM1117 595h1v1h-1zM321 596h1v1h-1zM338 596h1v1h-1zM573 596h1v3h-1zM883 596h1v1h-1zM1067 596h1v2h-1zM1080 596h1v2h-1zM1118 596h2v1h-2zM1121 596h1v2h-1zM322 597h1v1h-1zM337 597h1v1h-1zM538 597h1v1h-1zM884 597h1v1h-1zM1028 597h1v1h-1zM1075 597h1v2h-1zM1120 597h1v1h-1zM323 598h2v1h-2zM336 598h1v1h-1zM539 598h1v1h-1zM885 598h2v1h-2zM1029 598h1v1h-1zM1066 598h1v2h-1zM1079 598h1v2h-1zM325 599h2v1h-2zM335 599h1v1h-1zM540 599h1v2h-1zM572 599h1v3h-1zM887 599h1v1h-1zM889 599h1v3h-1zM1030 599h2v1h-2zM1076 599h1v2h-1zM327 600h4v1h-4zM334 600h1v1h-1zM888 600h1v1h-1zM1032 600h3v1h-3zM1065 600h1v2h-1zM1078 600h1v2h-1zM331 601h3v1h-3zM541 601h1v1h-1zM1035 601h2v1h-2zM1077 601h1v2h-1zM542 602h1v1h-1zM571 602h1v3h-1zM1037 602h3v1h-3zM1064 602h1v2h-1zM543 603h2v1h-2zM1040 603h4v1h-4zM545 604h6v1h-6zM1044 604h3v1h-3zM1063 604h1v2h-1zM551 605h1v1h-1zM570 605h1v2h-1zM1047 605h3v1h-3zM552 606h1v1h-1zM1050 606h4v1h-4zM1062 606h1v2h-1zM553 607h1v1h-1zM569 607h1v2h-1zM1054 607h4v1h-4zM554 608h1v2h-1zM1058 608h2v1h-2zM1061 608h1v2h-1zM568 609h1v2h-1zM1060 609h1v1h-1zM555 610h1v1h-1zM556 611h1v1h-1zM567 611h1v1h-1zM557 612h6v1h-6zM566 612h1v2h-1zM563 613h2v1h-2zM565 614h1v1h-1z"/>
<path fill="#c0c0c0" d="M5 650h1V659h-1zM9 650h1V659h-1zM13 648h1V659h-1zM17 647h1V659h-1zM21 647h1V659h-1zM25 646h1V659h-1zM29 646h1V659h-1zM33 647h1V659h-1zM37 647h1V659h-1zM41 647h1V659h-1zM45 649h1V659h-1zM49 649h1V659h-1zM53 649h1V659h-1zM57 649h1V659h-1zM61 649h1V659h-1zM65 649h1V659h-1zM69 649h1V659h-1zM73 653h1V659h-1zM81 658h1V661h-1zM85 658h1V663h-1zM89 658h1V664h-1zM93 658h1V662h-1zM97 658h1V660h-1zM109 657h1V659h-1zM113 657h1V659h-1zM121 658h1V660h-1zM125 658h1V662h-1zM129 658h1V664h-1zM133 658h1V665h-1zM137 658h1V664h-1zM141 658h1V663h-1zM145 658h1V661h-1zM153 656h1V659h-1zM157 655h1V659h-1zM161 656h1V659h-1zM165 657h1V659h-1zM177 658h1V660h-1zM181 658h1V661h-1zM185 658h1V661h-1zM189 658h1V660h-1zM193 658h1V660h-1zM201 657h1V659h-1zM205 655h1V659h-1zM209 653h1V659h-1zM213 651h1V659h-1zM217 650h1V659h-1zM221 649h1V659h-1zM225 648h1V659h-1zM229 651h1V659h-1zM233 655h1V659h-1zM241 658h1V660h-1zM245 658h1V660h-1zM249 658h1V661h-1zM253 658h1V663h-1zM257 658h1V664h-1zM261 658h1V665h-1zM265 658h1V667h-1zM269 658h1V668h-1zM273 658h1V670h-1zM277 658h1V671h-1zM281 658h1V672h-1zM285 658h1V674h-1zM289 658h1V675h-1zM293 658h1V675h-1zM297 658h1V675h-1zM301 658h1V675h-1zM305 658h1V675h-1zM309 658h1V674h-1zM313 658h1V674h-1zM317 658h1V676h-1zM321 658h1V678h-1zM325 658h1V681h-1zM329 658h1V683h-1zM333 658h1V685h-1zM337 658h1V686h-1zM341 658h1V685h-1zM345 658h1V684h-1zM349 658h1V683h-1zM353 658h1V682h-1zM357 658h1V681h-1zM361 658h1V680h-1zM365 658h1V678h-1zM369 658h1V677h-1zM373 658h1V676h-1zM377 658h1V675h-1zM381 658h1V676h-1zM385 658h1V677h-1zM389 658h1V678h-1zM393 658h1V678h-1zM397 658h1V676h-1zM401 658h1V675h-1zM405 658h1V674h-1zM409 658h1V673h-1zM413 658h1V671h-1zM417 658h1V669h-1zM421 658h1V668h-1zM425 658h1V666h-1zM429 658h1V664h-1zM433 658h1V664h-1zM437 658h1V665h-1zM441 658h1V668h-1zM445 658h1V667h-1zM449 658h1V666h-1zM453 658h1V664h-1zM457 658h1V662h-1zM461 658h1V660h-1zM465 657h1V659h-1zM469 655h1V659h-1zM473 653h1V659h-1zM477 652h1V659h-1zM481 651h1V659h-1zM485 649h1V659h-1zM489 648h1V659h-1zM493 646h1V659h-1zM497 645h1V659h-1zM501 644h1V659h-1zM505 643h1V659h-1zM509 645h1V659h-1zM513 646h1V659h-1zM517 648h1V659h-1zM521 650h1V659h-1zM525 652h1V659h-1zM529 655h1V659h-1zM533 658h1V660h-1zM537 658h1V663h-1zM541 658h1V668h-1zM545 658h1V675h-1zM549 658h1V679h-1zM553 658h1V685h-1zM557 658h1V694h-1zM561 658h1V701h-1zM565 658h1V709h-1zM569 658h1V714h-1zM573 658h1V713h-1zM577 658h1V708h-1zM581 658h1V702h-1zM585 658h1V696h-1zM589 658h1V695h-1zM593 658h1V686h-1zM597 658h1V675h-1zM601 658h1V662h-1zM605 651h1V659h-1zM609 641h1V659h-1zM613 636h1V659h-1zM617 633h1V659h-1zM621 633h1V659h-1zM625 638h1V659h-1zM629 647h1V659h-1zM633 654h1V659h-1zM637 656h1V659h-1zM645 657h1V659h-1zM649 654h1V659h-1zM653 650h1V659h-1zM657 647h1V659h-1zM661 645h1V659h-1zM665 646h1V659h-1zM669 647h1V659h-1zM673 650h1V659h-1zM677 653h1V659h-1zM681 655h1V659h-1zM685 656h1V659h-1zM689 658h1V660h-1zM697 658h1V660h-1zM717 657h1V659h-1zM721 655h1V659h-1zM725 652h1V659h-1zM729 651h1V659h-1zM733 649h1V659h-1zM737 649h1V659h-1zM741 648h1V659h-1zM745 652h1V659h-1zM749 656h1V659h-1zM757 658h1V660h-1zM761 658h1V660h-1zM765 656h1V659h-1zM769 655h1V659h-1zM773 655h1V659h-1zM777 655h1V659h-1zM781 655h1V659h-1zM785 656h1V659h-1zM789 656h1V659h-1zM793 655h1V659h-1zM797 655h1V659h-1zM801 654h1V659h-1zM805 654h1V659h-1zM809 655h1V659h-1zM821 657h1V659h-1zM825 656h1V659h-1zM829 656h1V659h-1zM833 657h1V659h-1zM837 658h1V660h-1zM841 658h1V661h-1zM845 658h1V664h-1zM849 658h1V666h-1zM853 658h1V668h-1zM857 658h1V669h-1zM861 658h1V670h-1zM865 658h1V673h-1zM869 658h1V672h-1zM873 658h1V672h-1zM877 658h1V673h-1zM881 658h1V678h-1zM885 658h1V683h-1zM889 658h1V689h-1zM893 658h1V688h-1zM897 658h1V686h-1zM901 658h1V686h-1zM905 658h1V685h-1zM909 658h1V684h-1zM913 658h1V683h-1zM917 658h1V681h-1zM921 658h1V680h-1zM925 658h1V681h-1zM929 658h1V682h-1zM933 658h1V683h-1zM937 658h1V681h-1zM941 658h1V680h-1zM945 658h1V679h-1zM949 658h1V677h-1zM953 658h1V677h-1zM957 658h1V677h-1zM961 658h1V677h-1zM965 658h1V677h-1zM969 658h1V676h-1zM973 658h1V677h-1zM977 658h1V678h-1zM981 658h1V680h-1zM985 658h1V680h-1zM989 658h1V679h-1zM993 658h1V678h-1zM997 658h1V678h-1zM1001 658h1V677h-1zM1005 658h1V676h-1zM1009 658h1V674h-1zM1013 658h1V675h-1zM1017 658h1V675h-1zM1021 658h1V676h-1zM1025 658h1V677h-1zM1029 658h1V680h-1zM1033 658h1V684h-1zM1037 658h1V688h-1zM1041 658h1V690h-1zM1045 658h1V692h-1zM1049 658h1V696h-1zM1053 658h1V700h-1zM1057 658h1V702h-1zM1061 658h1V704h-1zM1065 658h1V704h-1zM1069 658h1V701h-1zM1073 658h1V700h-1zM1077 658h1V701h-1zM1081 658h1V703h-1zM1085 658h1V702h-1zM1089 658h1V699h-1zM1093 658h1V696h-1zM1097 658h1V693h-1zM1101 658h1V692h-1zM1105 658h1V692h-1zM1109 658h1V691h-1zM1113 658h1V691h-1zM1117 658h1V691h-1zM1121 658h1V692h-1zM1125 658h1V690h-1zM1129 658h1V687h-1zM1133 658h1V685h-1zM1137 658h1V681h-1zM1141 658h1V680h-1zM1145 658h1V680h-1zM1149 658h1V679h-1zM1153 658h1V678h-1zM1157 658h1V679h-1zM1161 658h1V681h-1zM1165 658h1V680h-1zM1169 658h1V678h-1zM1173 658h1V676h-1zM1177 658h1V674h-1zM1181 658h1V670h-1zM1185 658h1V667h-1zM1189 658h1V665h-1zM1193 658h1V662h-1zM1197 658h1V661h-1zM1201 658h1V662h-1zM1205 658h1V663h-1zM1209 658h1V663h-1zM1213 658h1V664h-1zM1217 658h1V665h-1zM1221 658h1V665h-1zM1225 658h1V664h-1zM1229 658h1V664h-1zM1233 658h1V663h-1zM1237 658h1V660h-1zM1241 656h1V659h-1zM1245 652h1V659h-1zM1249 647h1V659h-1zM1253 643h1V659h-1zM1257 639h1V659h-1zM1261 638h1V659h-1zM1265 639h1V659h-1zM1269 641h1V659h-1z"/>
<path fill="#ff0000" d="M634 642h3v1h-3zM640 643h3v1h-3zM509 645h3v1h-3zM515 645h3v1h-3zM521 645h3v1h-3zM629 645h2v1h-2zM646 645h1v1h-1zM5 646h3v1h-3zM31 646h1v1h-1zM35 646h3v1h-3zM41 646h3v1h-3zM47 646h3v1h-3zM53 646h3v1h-3zM59 646h3v1h-3zM65 646h3v1h-3zM71 646h1v1h-1zM503 646h3v1h-3zM527 646h2v1h-2zM628 646h1v1h-1zM647 646h2v1h-2zM11 647h3v1h-3zM17 647h3v1h-3zM23 647h3v1h-3zM29 647h2v1h-2zM72 647h2v1h-2zM529 647h1v1h-1zM652 647h1v1h-1zM1266 647h1v1h-1zM499 648h1v1h-1zM533 648h2v1h-2zM653 648h2v1h-2zM1264 648h2v1h-2zM77 649h2v1h-2zM497 649h2v1h-2zM535 649h1v1h-1zM676 649h3v1h-3zM682 649h1v1h-1zM79 650h1v1h-1zM625 650h1v1h-1zM658 650h3v1h-3zM670 650h3v1h-3zM683 650h2v1h-2zM688 650h3v1h-3zM1260 650h1v1h-1zM83 651h1v1h-1zM227 651h3v1h-3zM233 651h3v1h-3zM239 651h3v1h-3zM493 651h1v1h-1zM624 651h1v1h-1zM664 651h3v1h-3zM742 651h3v1h-3zM748 651h3v1h-3zM754 651h2v1h-2zM1259 651h1v1h-1zM84 652h2v1h-2zM245 652h3v1h-3zM491 652h2v1h-2zM539 652h1v1h-1zM623 652h1v1h-1zM694 652h2v1h-2zM738 652h1v1h-1zM756 652h1v1h-1zM1258 652h1v1h-1zM221 653h3v1h-3zM540 653h2v1h-2zM696 653h1v1h-1zM736 653h2v1h-2zM760 653h3v1h-3zM89 654h3v1h-3zM216 654h2v1h-2zM251 654h1v1h-1zM486 654h2v1h-2zM700 654h1v1h-1zM732 654h1v1h-1zM766 654h3v1h-3zM802 654h3v1h-3zM808 654h3v1h-3zM1254 654h1v1h-1zM215 655h1v1h-1zM252 655h2v1h-2zM485 655h1v1h-1zM701 655h2v1h-2zM730 655h2v1h-2zM772 655h3v1h-3zM790 655h3v1h-3zM796 655h3v1h-3zM814 655h3v1h-3zM820 655h3v1h-3zM826 655h2v1h-2zM1253 655h1v1h-1zM95 656h2v1h-2zM210 656h2v1h-2zM621 656h1v2h-1zM706 656h3v1h-3zM778 656h3v1h-3zM784 656h3v1h-3zM828 656h1v1h-1zM832 656h3v1h-3zM838 656h2v1h-2zM1252 656h1v1h-1zM97 657h1v1h-1zM167 657h3v1h-3zM173 657h3v1h-3zM179 657h3v1h-3zM185 657h3v1h-3zM209 657h1v1h-1zM257 657h1v1h-1zM480 657h2v1h-2zM545 657h1v1h-1zM712 657h3v1h-3zM718 657h3v1h-3zM724 657h3v1h-3zM840 657h1v1h-1zM101 658h3v1h-3zM161 658h3v1h-3zM191 658h3v1h-3zM203 658h3v1h-3zM258 658h2v1h-2zM479 658h1v1h-1zM546 658h1v1h-1zM620 658h1v1h-1zM844 658h2v1h-2zM107 659h2v1h-2zM113 659h3v1h-3zM119 659h3v1h-3zM157 659h1v1h-1zM197 659h3v1h-3zM547 659h1v1h-1zM846 659h1v1h-1zM1248 659h1v1h-1zM109 660h1v1h-1zM125 660h3v1h-3zM131 660h3v1h-3zM137 660h3v1h-3zM143 660h1v1h-1zM155 660h2v1h-2zM263 660h1v1h-1zM474 660h2v1h-2zM850 660h2v1h-2zM1246 660h2v1h-2zM144 661h2v1h-2zM149 661h3v1h-3zM264 661h2v1h-2zM469 661h1v1h-1zM473 661h1v1h-1zM852 661h1v1h-1zM1241 661h2v1h-2zM467 662h2v1h-2zM551 662h1v1h-1zM618 662h1v2h-1zM856 662h2v1h-2zM1218 662h1v1h-1zM1222 662h3v1h-3zM1228 662h3v1h-3zM1234 662h3v1h-3zM1240 662h1v1h-1zM269 663h2v1h-2zM462 663h2v1h-2zM552 663h1v1h-1zM858 663h1v1h-1zM1211 663h2v1h-2zM1216 663h2v1h-2zM271 664h1v1h-1zM457 664h1v1h-1zM461 664h1v1h-1zM553 664h1v1h-1zM617 664h1v1h-1zM862 664h3v1h-3zM1210 664h1v1h-1zM275 665h2v1h-2zM450 665h2v1h-2zM455 665h2v1h-2zM1206 665h1v1h-1zM277 666h1v1h-1zM443 666h3v1h-3zM449 666h1v1h-1zM868 666h3v1h-3zM1204 666h2v1h-2zM281 667h3v1h-3zM433 667h1v1h-1zM437 667h3v1h-3zM874 667h1v1h-1zM431 668h2v1h-2zM556 668h1v1h-1zM614 668h1v2h-1zM875 668h2v1h-2zM1199 668h2v1h-2zM287 669h3v1h-3zM557 669h1v1h-1zM880 669h1v1h-1zM1198 669h1v1h-1zM293 670h2v1h-2zM426 670h2v1h-2zM558 670h1v1h-1zM613 670h1v1h-1zM881 670h2v1h-2zM295 671h1v1h-1zM299 671h2v1h-2zM425 671h1v1h-1zM1193 671h2v1h-2zM301 672h1v1h-1zM305 672h2v1h-2zM421 672h1v1h-1zM886 672h1v1h-1zM1192 672h1v1h-1zM307 673h1v1h-1zM311 673h3v1h-3zM419 673h2v1h-2zM887 673h1v1h-1zM317 674h3v1h-3zM561 674h1v1h-1zM611 674h1v3h-1zM888 674h1v1h-1zM1187 674h2v1h-2zM323 675h3v1h-3zM409 675h1v1h-1zM413 675h3v1h-3zM562 675h1v2h-1zM1019 675h2v1h-2zM1024 675h3v1h-3zM1030 675h3v1h-3zM1186 675h1v1h-1zM329 676h1v1h-1zM389 676h3v1h-3zM395 676h3v1h-3zM401 676h3v1h-3zM407 676h2v1h-2zM892 676h2v1h-2zM970 676h3v1h-3zM976 676h3v1h-3zM1012 676h3v1h-3zM1018 676h1v1h-1zM1181 676h2v1h-2zM330 677h2v1h-2zM383 677h3v1h-3zM894 677h1v1h-1zM964 677h3v1h-3zM982 677h3v1h-3zM988 677h3v1h-3zM994 677h3v1h-3zM1000 677h3v1h-3zM1006 677h3v1h-3zM1036 677h2v1h-2zM1176 677h1v1h-1zM1180 677h1v1h-1zM335 678h3v1h-3zM378 678h2v1h-2zM898 678h1v1h-1zM952 678h3v1h-3zM958 678h3v1h-3zM1038 678h1v1h-1zM1174 678h2v1h-2zM341 679h1v1h-1zM377 679h1v1h-1zM899 679h2v1h-2zM946 679h3v1h-3zM1042 679h2v1h-2zM1168 679h3v1h-3zM342 680h2v1h-2zM371 680h3v1h-3zM565 680h1v2h-1zM609 680h1v1h-1zM940 680h3v1h-3zM1044 680h1v1h-1zM1162 680h3v1h-3zM347 681h3v1h-3zM366 681h2v1h-2zM608 681h1v2h-1zM904 681h2v1h-2zM934 681h3v1h-3zM1158 681h1v1h-1zM353 682h3v1h-3zM365 682h1v1h-1zM566 682h1v1h-1zM906 682h1v1h-1zM928 682h3v1h-3zM1156 682h2v1h-2zM359 683h3v1h-3zM910 683h1v1h-1zM922 683h3v1h-3zM1048 683h2v1h-2zM1152 683h1v1h-1zM911 684h2v1h-2zM916 684h3v1h-3zM1050 684h1v1h-1zM1150 684h2v1h-2zM568 686h1v1h-1zM606 686h1v1h-1zM1144 686h3v1h-3zM569 687h1v1h-1zM605 687h1v2h-1zM1054 687h1v1h-1zM1140 687h1v1h-1zM570 688h1v1h-1zM1055 688h1v1h-1zM1138 688h2v1h-2zM1056 689h1v1h-1zM1133 689h2v1h-2zM1132 690h1v1h-1zM1060 691h1v1h-1zM1126 691h3v1h-3zM573 692h1v1h-1zM603 692h1v1h-1zM1061 692h2v1h-2zM1120 692h3v1h-3zM574 693h1v2h-1zM602 693h1v1h-1zM1115 693h2v1h-2zM601 694h1v1h-1zM1066 694h1v1h-1zM1114 694h1v1h-1zM1067 695h2v1h-2zM1109 695h2v1h-2zM1108 696h1v1h-1zM1072 697h1v1h-1zM1102 697h3v1h-3zM578 698h2v1h-2zM598 698h1v1h-1zM1073 698h2v1h-2zM580 699h1v1h-1zM597 699h1v1h-1zM1078 699h2v1h-2zM1096 699h3v1h-3zM596 700h1v1h-1zM1080 700h1v1h-1zM1084 700h1v1h-1zM1091 700h2v1h-2zM1085 701h2v1h-2zM1090 701h1v1h-1zM584 702h3v1h-3zM591 702h2v1h-2zM590 703h1v1h-1z"/>
<path d="M1273 26h9l-4.5 5z" fill="#c0c0c0" shape-rendering="geometricPrecision"/>
<path d="M8 32h7v1h-1v1h-1v1h-1v1h-1v-1h-1v-1h-1v-1h-1z" fill="#000"/>
<text x="20.4" y="37" font-size="9.9" fill="#000" stroke="#000" stroke-width="0.25" textLength="64.2" lengthAdjust="spacingAndGlyphs">USDCHF,Daily</text>
<text x="91.1" y="37" font-size="9.9" fill="#000" stroke="#000" stroke-width="0.25" textLength="140.6" lengthAdjust="spacingAndGlyphs">0.92151 0.92204 0.91881 0.91976</text>
<text x="9.5" y="545" font-size="9.9" fill="#000" stroke="#000" stroke-width="0.25" textLength="67.2" lengthAdjust="spacingAndGlyphs">RSI(14) 54.4454</text>
<text x="9.5" y="639" font-size="9.9" fill="#000" stroke="#000" stroke-width="0.25" textLength="146.8" lengthAdjust="spacingAndGlyphs">MACD(12,26,9) 0.003381 0.002391</text>
<rect x="1598" y="32" width="2" height="1" fill="#000"/>
<text x="1603.5" y="35.75" font-size="9.9" fill="#000" stroke="#000" stroke-width="0.25" textLength="32.7" lengthAdjust="spacingAndGlyphs">1.00660</text>
<rect x="1598" y="65" width="2" height="1" fill="#000"/>
<text x="1603.5" y="68.75" font-size="9.9" fill="#000" stroke="#000" stroke-width="0.25" textLength="32.7" lengthAdjust="spacingAndGlyphs">0.99940</text>
<rect x="1598" y="98" width="2" height="1" fill="#000"/>
<text x="1603.5" y="101.75" font-size="9.9" fill="#000" stroke="#000" stroke-width="0.25" textLength="32.7" lengthAdjust="spacingAndGlyphs">0.99220</text>
<rect x="1598" y="131" width="2" height="1" fill="#000"/>
<text x="1603.5" y="134.75" font-size="9.9" fill="#000" stroke="#000" stroke-width="0.25" textLength="32.7" lengthAdjust="spacingAndGlyphs">0.98480</text>
<rect x="1598" y="164" width="2" height="1" fill="#000"/>
<text x="1603.5" y="167.75" font-size="9.9" fill="#000" stroke="#000" stroke-width="0.25" textLength="32.7" lengthAdjust="spacingAndGlyphs">0.97760</text>
<rect x="1598" y="197" width="2" height="1" fill="#000"/>
<text x="1603.5" y="200.75" font-size="9.9" fill="#000" stroke="#000" stroke-width="0.25" textLength="32.7" lengthAdjust="spacingAndGlyphs">0.97040</text>
<rect x="1598" y="230" width="2" height="1" fill="#000"/>
<text x="1603.5" y="233.75" font-size="9.9" fill="#000" stroke="#000" stroke-width="0.25" textLength="32.7" lengthAdjust="spacingAndGlyphs">0.96320</text>
<rect x="1598" y="263" width="2" height="1" fill="#000"/>
<text x="1603.5" y="266.75" font-size="9.9" fill="#000" stroke="#000" stroke-width="0.25" textLength="32.7" lengthAdjust="spacingAndGlyphs">0.95580</text>
<rect x="1598" y="296" width="2" height="1" fill="#000"/>
<text x="1603.5" y="299.75" font-size="9.9" fill="#000" stroke="#000" stroke-width="0.25" textLength="32.7" lengthAdjust="spacingAndGlyphs">0.94860</text>
<rect x="1598" y="329" width="2" height="1" fill="#000"/>
<text x="1603.5" y="332.75" font-size="9.9" fill="#000" stroke="#000" stroke-width="0.25" textLength="32.7" lengthAdjust="spacingAndGlyphs">0.94140</text>
<rect x="1598" y="362" width="2" height="1" fill="#000"/>
<text x="1603.5" y="365.75" font-size="9.9" fill="#000" stroke="#000" stroke-width="0.25" textLength="32.7" lengthAdjust="spacingAndGlyphs">0.93400</text>
<rect x="1598" y="395" width="2" height="1" fill="#000"/>
<text x="1603.5" y="398.75" font-size="9.9" fill="#000" stroke="#000" stroke-width="0.25" textLength="32.7" lengthAdjust="spacingAndGlyphs">0.92680</text>
<rect x="1598" y="428" width="2" height="1" fill="#000"/>
<rect x="1598" y="461" width="2" height="1" fill="#000"/>
<text x="1603.5" y="464.75" font-size="9.9" fill="#000" stroke="#000" stroke-width="0.25" textLength="32.7" lengthAdjust="spacingAndGlyphs">0.91220</text>
<rect x="1598" y="494" width="2" height="1" fill="#000"/>
<text x="1603.5" y="497.75" font-size="9.9" fill="#000" stroke="#000" stroke-width="0.25" textLength="32.7" lengthAdjust="spacingAndGlyphs">0.90500</text>
<rect x="1598" y="527" width="2" height="1" fill="#000"/>
<text x="1603.5" y="530.75" font-size="9.9" fill="#000" stroke="#000" stroke-width="0.25" textLength="32.7" lengthAdjust="spacingAndGlyphs">0.89780</text>
<rect x="1599" y="250" width="41" height="11" fill="#ff0000"/><text x="1603.5" y="259" font-size="9.9" fill="#fff" stroke="#fff" stroke-width="0.25" textLength="32.7" lengthAdjust="spacingAndGlyphs">0.95740</text>
<rect x="1599" y="309" width="41" height="11" fill="#ff0000"/><text x="1603.5" y="318" font-size="9.9" fill="#fff" stroke="#fff" stroke-width="0.25" textLength="32.7" lengthAdjust="spacingAndGlyphs">0.94436</text>
<rect x="1599" y="373" width="41" height="11" fill="#ff0000"/><text x="1603.5" y="382" font-size="9.9" fill="#fff" stroke="#fff" stroke-width="0.25" textLength="32.7" lengthAdjust="spacingAndGlyphs">0.93024</text>
<rect x="1599" y="422" width="41" height="11" fill="#000000"/><text x="1603.5" y="431" font-size="9.9" fill="#fff" stroke="#fff" stroke-width="0.25" textLength="32.7" lengthAdjust="spacingAndGlyphs">0.91976</text>
<rect x="1599" y="434" width="41" height="11" fill="#00ff00"/><text x="1603.5" y="443" font-size="9.9" fill="#fff" stroke="#fff" stroke-width="0.25" textLength="32.7" lengthAdjust="spacingAndGlyphs">0.91697</text>
<rect x="1599" y="510" width="41" height="11" fill="#0000ff"/><text x="1603.5" y="519" font-size="9.9" fill="#fff" stroke="#fff" stroke-width="0.25" textLength="32.7" lengthAdjust="spacingAndGlyphs">0.90026</text>
<text x="1601.5" y="542.75" font-size="9.9" fill="#000" stroke="#000" stroke-width="0.25" textLength="14.5" lengthAdjust="spacingAndGlyphs">100</text>
<text x="1600.6" y="563.75" font-size="9.9" fill="#000" stroke="#000" stroke-width="0.25" textLength="9.4" lengthAdjust="spacingAndGlyphs">70</text>
<text x="1600.6" y="599.75" font-size="9.9" fill="#000" stroke="#000" stroke-width="0.25" textLength="9.4" lengthAdjust="spacingAndGlyphs">30</text>
<text x="1601" y="620.75" font-size="9.9" fill="#000" stroke="#000" stroke-width="0.25" textLength="4.6" lengthAdjust="spacingAndGlyphs">0</text>
<rect x="1598" y="534" width="2" height="1" fill="#000"/>
<text x="1601" y="636.75" font-size="9.9" fill="#000" stroke="#000" stroke-width="0.25" textLength="37.6" lengthAdjust="spacingAndGlyphs">0.005818</text>
<text x="1601" y="661.75" font-size="9.9" fill="#000" stroke="#000" stroke-width="0.25" textLength="17.4" lengthAdjust="spacingAndGlyphs">0.00</text>
<text x="1601" y="714.75" font-size="9.9" fill="#000" stroke="#000" stroke-width="0.25" textLength="40.8" lengthAdjust="spacingAndGlyphs">-0.011514</text>
<rect x="1598" y="658" width="2" height="1" fill="#000"/>
<rect x="5" y="719" width="1" height="3" fill="#000"/>
<text transform="translate(4.5,731) scale(0.94,1)" font-size="9.9" fill="#000" stroke="#000" stroke-width="0.25">27 Sep 2019</text>
<rect x="69" y="719" width="1" height="3" fill="#000"/>
<text transform="translate(68.5,731) scale(0.94,1)" font-size="9.9" fill="#000" stroke="#000" stroke-width="0.25">16 Oct 2019</text>
<rect x="133" y="719" width="1" height="3" fill="#000"/>
<text transform="translate(132.5,731) scale(0.94,1)" font-size="9.9" fill="#000" stroke="#000" stroke-width="0.25">4 Nov 2019</text>
<rect x="197" y="719" width="1" height="3" fill="#000"/>
<text transform="translate(196.5,731) scale(0.94,1)" font-size="9.9" fill="#000" stroke="#000" stroke-width="0.25">22 Nov 2019</text>
<rect x="261" y="719" width="1" height="3" fill="#000"/>
<text transform="translate(260.5,731) scale(0.94,1)" font-size="9.9" fill="#000" stroke="#000" stroke-width="0.25">11 Dec 2019</text>
<rect x="325" y="719" width="1" height="3" fill="#000"/>
<text transform="translate(324.5,731) scale(0.94,1)" font-size="9.9" fill="#000" stroke="#000" stroke-width="0.25">30 Dec 2019</text>
<rect x="389" y="719" width="1" height="3" fill="#000"/>
<text transform="translate(388.5,731) scale(0.94,1)" font-size="9.9" fill="#000" stroke="#000" stroke-width="0.25">17 Jan 2020</text>
<rect x="453" y="719" width="1" height="3" fill="#000"/>
<text transform="translate(452.5,731) scale(0.94,1)" font-size="9.9" fill="#000" stroke="#000" stroke-width="0.25">5 Feb 2020</text>
<rect x="517" y="719" width="1" height="3" fill="#000"/>
<text transform="translate(516.5,731) scale(0.94,1)" font-size="9.9" fill="#000" stroke="#000" stroke-width="0.25">24 Feb 2020</text>
<rect x="581" y="719" width="1" height="3" fill="#000"/>
<text transform="translate(580.5,731) scale(0.94,1)" font-size="9.9" fill="#000" stroke="#000" stroke-width="0.25">13 Mar 2020</text>
<rect x="645" y="719" width="1" height="3" fill="#000"/>
<text transform="translate(644.5,731) scale(0.94,1)" font-size="9.9" fill="#000" stroke="#000" stroke-width="0.25">1 Apr 2020</text>
<rect x="709" y="719" width="1" height="3" fill="#000"/>
<text transform="translate(708.5,731) scale(0.94,1)" font-size="9.9" fill="#000" stroke="#000" stroke-width="0.25">20 Apr 2020</text>
<rect x="773" y="719" width="1" height="3" fill="#000"/>
<text transform="translate(772.5,731) scale(0.94,1)" font-size="9.9" fill="#000" stroke="#000" stroke-width="0.25">8 May 2020</text>
<rect x="837" y="719" width="1" height="3" fill="#000"/>
<text transform="translate(836.5,731) scale(0.94,1)" font-size="9.9" fill="#000" stroke="#000" stroke-width="0.25">27 May 2020</text>
<rect x="901" y="719" width="1" height="3" fill="#000"/>
<text transform="translate(900.5,731) scale(0.94,1)" font-size="9.9" fill="#000" stroke="#000" stroke-width="0.25">15 Jun 2020</text>
<rect x="965" y="719" width="1" height="3" fill="#000"/>
<text transform="translate(964.5,731) scale(0.94,1)" font-size="9.9" fill="#000" stroke="#000" stroke-width="0.25">3 Jul 2020</text>
<rect x="1029" y="719" width="1" height="3" fill="#000"/>
<text transform="translate(1028.5,731) scale(0.94,1)" font-size="9.9" fill="#000" stroke="#000" stroke-width="0.25">22 Jul 2020</text>
<rect x="1093" y="719" width="1" height="3" fill="#000"/>
<text transform="translate(1092.5,731) scale(0.94,1)" font-size="9.9" fill="#000" stroke="#000" stroke-width="0.25">10 Aug 2020</text>
<rect x="1157" y="719" width="1" height="3" fill="#000"/>
<text transform="translate(1156.5,731) scale(0.94,1)" font-size="9.9" fill="#000" stroke="#000" stroke-width="0.25">28 Aug 2020</text>
<rect x="1221" y="719" width="1" height="3" fill="#000"/>
<text transform="translate(1220.5,731) scale(0.94,1)" font-size="9.9" fill="#000" stroke="#000" stroke-width="0.25">16 Sep 2020</text>
<rect x="0" y="739" width="1643" height="1" fill="#e3e3e3"/>
<rect x="0" y="740" width="1643" height="1" fill="#ffffff"/>
<rect x="0" y="741" width="1643" height="1" fill="#000"/>
<rect x="0" y="742" width="1643" height="1" fill="#ffffff"/>
<rect x="0" y="743" width="1643" height="18" fill="#f0f0f0"/>
<rect x="0" y="761" width="1643" height="1" fill="#ffffff"/>
<rect x="0" y="762" width="1643" height="2" fill="#f0f0f0"/>
<rect x="0" y="742" width="1" height="18" fill="#a0a0a0"/><rect x="1" y="742" width="1" height="18" fill="#696969"/>
<rect x="110" y="741" width="100" height="19" fill="#fff"/>
<rect x="110" y="741" width="1" height="19" fill="#000"/><rect x="209" y="741" width="1" height="19" fill="#000"/><rect x="110" y="759" width="100" height="1" fill="#000"/><rect x="111" y="741" width="98" height="1" fill="#fff"/>
<text x="18.5" y="756" font-size="12.4" fill="#707070" textLength="79.5" lengthAdjust="spacingAndGlyphs">EURUSD,Daily</text>
<text x="120.0" y="756" font-size="12.4" fill="#000" textLength="79.4" lengthAdjust="spacingAndGlyphs">USDCHF,Daily</text>
<text x="220.9" y="756" font-size="12.4" fill="#707070" textLength="82.4" lengthAdjust="spacingAndGlyphs">AUDUSD,Daily</text>
<text x="325.5" y="756" font-size="12.4" fill="#707070" textLength="80.8" lengthAdjust="spacingAndGlyphs">USDCAD,Daily</text>
<text x="428.4" y="756" font-size="12.4" fill="#707070" textLength="82.8" lengthAdjust="spacingAndGlyphs">USDCNH,Daily</text>
<text x="534.1" y="756" font-size="12.4" fill="#707070" textLength="79.7" lengthAdjust="spacingAndGlyphs">EURUSD,Daily</text>
<text x="638.0" y="756" font-size="12.4" fill="#707070" textLength="67.9" lengthAdjust="spacingAndGlyphs">GBPUSD,H1</text>
<text x="727.7" y="756" font-size="12.4" fill="#707070" textLength="79.0" lengthAdjust="spacingAndGlyphs">XAUUSD,M15</text>
<text x="828.9" y="756" font-size="12.4" fill="#707070" textLength="49.4" lengthAdjust="spacingAndGlyphs">HK50,H1</text>
<text x="901.5" y="756" font-size="12.4" fill="#707070" textLength="55.9" lengthAdjust="spacingAndGlyphs">UK100,H1</text>
<text x="981.3" y="756" font-size="12.4" fill="#707070" textLength="56.2" lengthAdjust="spacingAndGlyphs">UK100,H1</text>
<text x="1061.3" y="756" font-size="12.4" fill="#707070" textLength="56.5" lengthAdjust="spacingAndGlyphs">GER30,H1</text>
<text x="1140.2" y="756" font-size="12.4" fill="#707070" textLength="54.7" lengthAdjust="spacingAndGlyphs">FRA40,H1</text>
<text x="1216.5" y="756" font-size="12.4" fill="#707070" textLength="50.3" lengthAdjust="spacingAndGlyphs">USOil,H4</text>
<text x="1288.5" y="756" font-size="12.4" fill="#707070" textLength="74.5" lengthAdjust="spacingAndGlyphs">USDJPY,Daily</text>
<text x="1384.3" y="756" font-size="12.4" fill="#707070" textLength="58.7" lengthAdjust="spacingAndGlyphs">DJ30,Daily</text>
<text x="1464.3" y="756" font-size="12.4" fill="#707070" textLength="77.8" lengthAdjust="spacingAndGlyphs">CHINA300,H1</text>
<text x="1564.5" y="756" font-size="12.4" fill="#707070" textLength="42.5" lengthAdjust="spacingAndGlyphs">USOil,H</text>
<rect x="314" y="745" width="1" height="13" fill="#808080"/>
<rect x="418" y="745" width="1" height="13" fill="#808080"/>
<rect x="522" y="745" width="1" height="13" fill="#808080"/>
<rect x="626" y="745" width="1" height="13" fill="#808080"/>
<rect x="718" y="745" width="1" height="13" fill="#808080"/>
<rect x="818" y="745" width="1" height="13" fill="#808080"/>
<rect x="890" y="745" width="1" height="13" fill="#808080"/>
<rect x="970" y="745" width="1" height="13" fill="#808080"/>
<rect x="1050" y="745" width="1" height="13" fill="#808080"/>
<rect x="1130" y="745" width="1" height="13" fill="#808080"/>
<rect x="1206" y="745" width="1" height="13" fill="#808080"/>
<rect x="1278" y="745" width="1" height="13" fill="#808080"/>
<rect x="1374" y="745" width="1" height="13" fill="#808080"/>
<rect x="1454" y="745" width="1" height="13" fill="#808080"/>
<rect x="1554" y="745" width="1" height="13" fill="#808080"/>
<path d="M1616.5 748.5v6l-3.5 -3z" fill="#a0a0a0" shape-rendering="geometricPrecision"/>
<path d="M1631 747.5v7l4 -3.5z" fill="#000" shape-rendering="geometricPrecision"/>
</svg>
</body></html>
